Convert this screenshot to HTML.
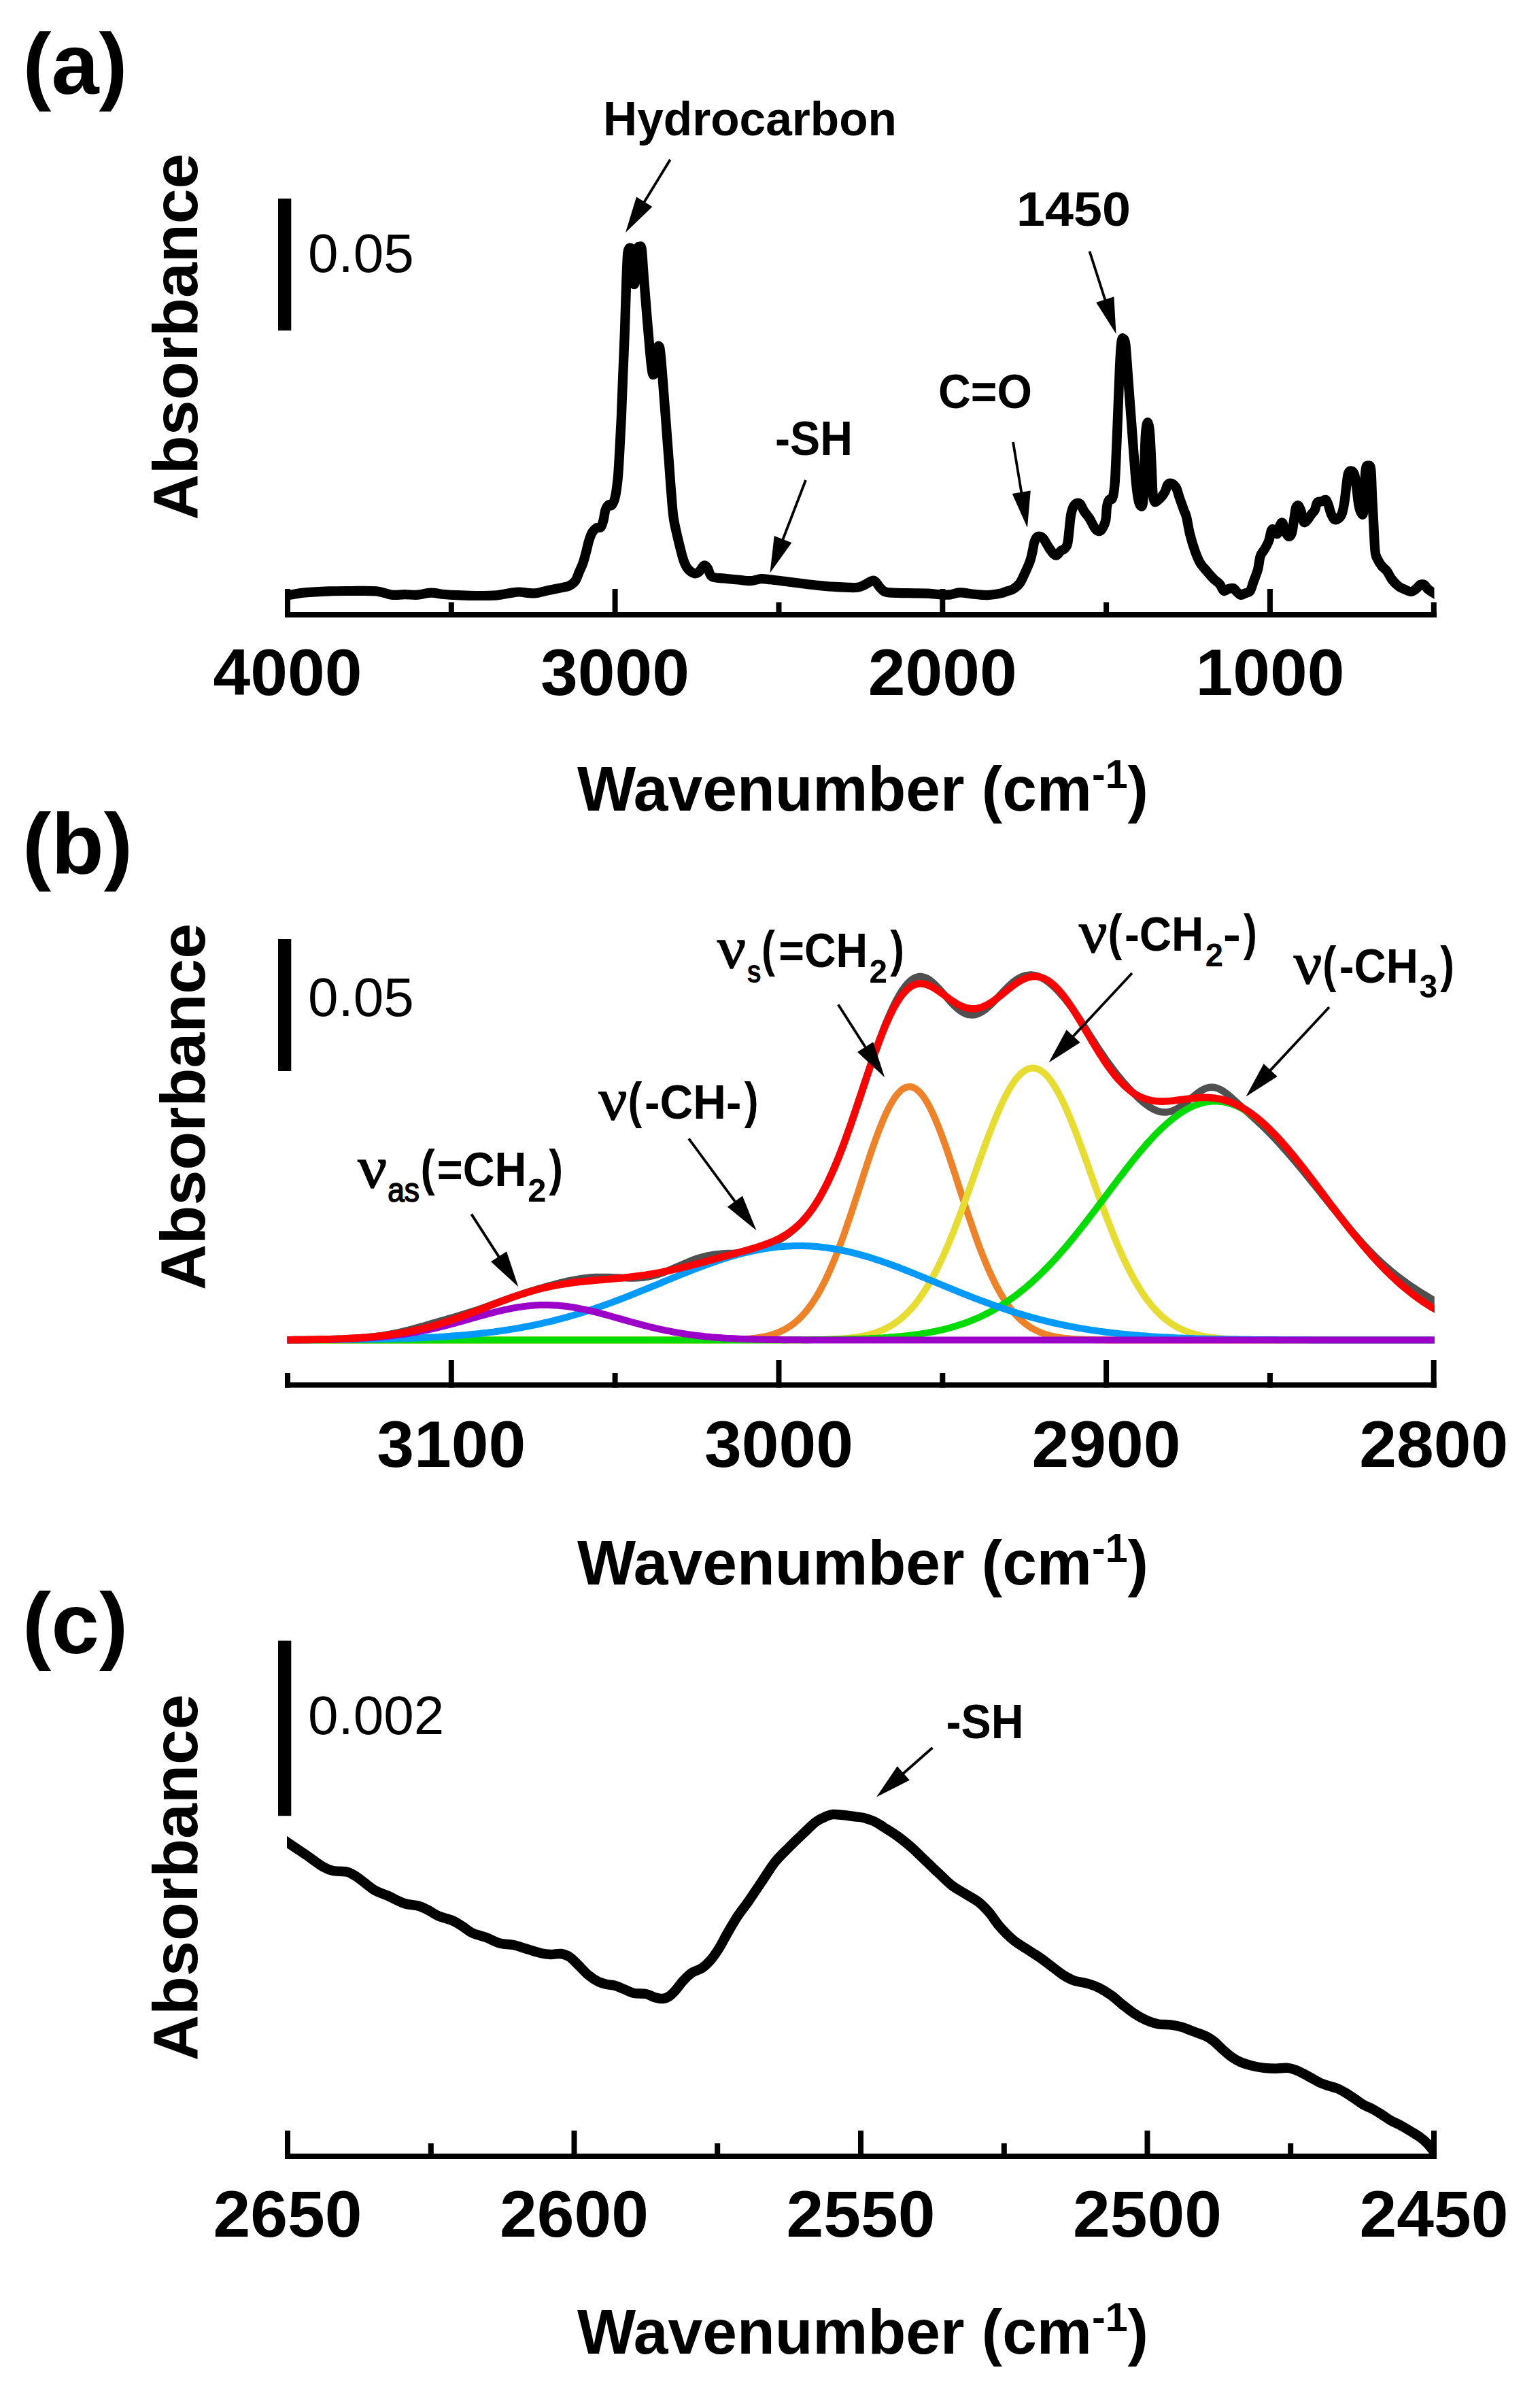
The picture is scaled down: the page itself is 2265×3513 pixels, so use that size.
<!DOCTYPE html>
<html><head><meta charset="utf-8"><title>FTIR spectra</title>
<style>html,body{margin:0;padding:0;background:#fff}svg{display:block}</style></head>
<body>
<svg width="2265" height="3513" viewBox="0 0 2265 3513">
<rect width="2265" height="3513" fill="#fff"/>
<text x="33.5" y="138" font-family="'Liberation Sans', Arial, sans-serif" font-weight="700" font-size="126">(a)</text>
<text transform="translate(289.5 764.5) rotate(-90)" font-family="'Liberation Sans', Arial, sans-serif" font-weight="700" font-size="92.5" textLength="539" lengthAdjust="spacingAndGlyphs">Absorbance</text>
<rect x="409" y="292" width="19.3" height="194" fill="#000"/>
<text x="453" y="400" font-family="'Liberation Sans', Arial, sans-serif" font-size="80">0.05</text>
<rect x="419.0" y="900.0" width="1693.8" height="8.0" fill="#000"/>
<rect x="419.0" y="866.0" width="8" height="42.0" fill="#000"/>
<rect x="900.6" y="866.0" width="8" height="42.0" fill="#000"/>
<rect x="1382.3" y="866.0" width="8" height="42.0" fill="#000"/>
<rect x="1863.9" y="866.0" width="8" height="42.0" fill="#000"/>
<rect x="659.8" y="885.5" width="8" height="22.5" fill="#000"/>
<rect x="1141.5" y="885.5" width="8" height="22.5" fill="#000"/>
<rect x="1623.1" y="885.5" width="8" height="22.5" fill="#000"/>
<rect x="2104.8" y="885.5" width="8" height="22.5" fill="#000"/>
<clipPath id="ca"><rect x="422" y="300" width="1687.5" height="600"/></clipPath>
<path clip-path="url(#ca)" d="M412.0 876.0C414.5 875.8 420.8 875.5 426.9 874.7C433.0 873.9 439.2 872.3 448.7 871.4C458.2 870.5 472.4 869.8 483.8 869.4C495.2 869.0 505.2 869.0 516.9 869.0C528.6 869.0 544.0 868.4 553.9 869.4C563.8 870.4 569.5 873.9 576.3 874.7C583.1 875.5 588.5 874.2 594.8 874.2C601.1 874.2 607.8 875.1 614.3 874.7C620.8 874.3 627.3 871.7 633.8 871.6C640.3 871.5 646.8 873.4 653.3 874.0C659.8 874.6 665.0 874.9 672.8 875.2C680.6 875.5 690.3 876.0 700.0 876.0C709.7 876.0 722.3 876.0 730.9 875.3C739.5 874.6 745.9 872.7 751.4 871.9C756.9 871.1 757.9 870.4 763.6 870.5C769.3 870.6 778.5 872.8 785.5 872.4C792.5 872.0 799.1 869.6 805.9 868.2C812.7 866.8 821.2 865.2 826.4 864.1C831.6 863.0 834.0 863.1 837.3 861.4C840.6 859.7 844.0 857.3 846.4 853.9C848.8 850.5 850.0 845.3 851.9 840.9C853.8 836.5 855.9 832.4 857.7 827.3C859.5 822.1 861.1 815.4 862.5 810.0C863.9 804.6 864.8 799.6 866.2 795.0C867.7 790.4 869.4 785.6 871.2 782.5C873.1 779.4 875.4 777.5 877.5 776.2C879.6 775.0 882.1 776.9 883.8 775.0C885.4 773.1 886.4 769.2 887.5 765.0C888.6 760.8 889.2 753.8 890.5 750.0C891.8 746.2 893.4 743.8 895.0 742.5C896.6 741.2 898.3 744.6 900.0 742.5C901.7 740.4 903.5 736.7 905.0 730.0C906.5 723.3 907.7 713.3 908.8 702.5C909.8 691.7 910.4 679.6 911.2 665.0C912.1 650.4 912.9 633.8 913.8 615.0C914.6 596.2 915.4 573.3 916.2 552.5C917.1 531.7 917.9 512.9 918.8 490.0C919.6 467.1 920.5 434.2 921.2 415.0C922.0 395.8 922.4 382.7 923.0 374.5C923.6 366.3 924.2 367.0 925.0 365.8C925.8 364.5 927.2 363.0 928.0 367.0C928.8 371.0 929.4 382.0 930.0 390.0C930.6 398.0 931.1 410.8 931.8 415.0C932.4 419.2 933.1 419.2 933.8 415.0C934.4 410.8 934.9 398.1 935.5 390.0C936.1 381.9 936.7 371.0 937.5 366.5C938.3 362.0 939.5 362.8 940.5 362.8C941.5 362.8 942.8 359.9 943.8 366.5C944.8 373.1 945.2 386.1 946.5 402.5C947.8 418.9 949.9 445.4 951.5 465.0C953.1 484.6 954.9 506.2 956.2 520.0C957.6 533.8 958.5 543.3 959.5 548.0C960.5 552.7 961.8 551.4 962.5 548.0C963.2 544.6 963.1 533.4 963.8 527.5C964.4 521.6 965.2 515.4 966.2 512.5C967.3 509.6 969.0 507.1 970.0 510.0C971.0 512.9 971.5 518.8 972.5 530.0C973.5 541.2 975.0 561.2 976.2 577.5C977.5 593.8 978.8 610.8 980.0 627.5C981.2 644.2 982.5 660.8 983.8 677.5C985.0 694.2 986.2 712.9 987.5 727.5C988.8 742.1 988.9 751.2 991.2 765.0C993.6 778.8 999.0 800.0 1001.6 810.5C1004.2 821.0 1005.1 823.6 1007.0 828.2C1008.9 832.8 1010.6 835.5 1013.0 838.0C1015.4 840.5 1019.1 842.7 1021.6 843.2C1024.1 843.7 1025.7 843.0 1028.0 841.0C1030.3 839.0 1033.5 832.3 1035.7 831.5C1037.9 830.7 1039.1 833.2 1041.0 836.0C1042.9 838.8 1043.3 845.6 1047.3 848.0C1051.3 850.4 1058.6 849.8 1065.0 850.5C1071.4 851.2 1078.9 851.9 1085.5 852.5C1092.1 853.1 1098.8 854.3 1104.5 854.1C1110.2 853.9 1114.7 851.4 1119.5 851.1C1124.3 850.8 1127.5 851.7 1133.2 852.3C1138.9 852.9 1145.6 853.8 1153.6 854.8C1161.5 855.8 1173.2 857.2 1180.9 858.2C1188.6 859.2 1193.7 859.8 1200.0 860.5C1206.3 861.2 1209.3 861.7 1219.0 862.3C1228.7 862.9 1249.2 864.4 1258.0 864.0C1266.8 863.6 1267.1 861.7 1271.6 860.0C1276.1 858.3 1281.3 852.9 1285.2 853.7C1289.1 854.5 1291.8 861.9 1295.0 864.8C1298.2 867.7 1297.9 869.8 1304.7 871.0C1311.5 872.2 1325.9 871.9 1335.9 872.2C1346.0 872.5 1356.9 872.2 1365.0 872.6C1373.1 873.0 1379.1 874.2 1384.6 874.5C1390.1 874.8 1393.5 874.9 1398.0 874.4C1402.5 873.9 1405.9 871.5 1411.8 871.4C1417.7 871.3 1426.5 873.2 1433.3 873.8C1440.1 874.4 1446.2 875.3 1452.7 875.1C1459.2 874.9 1467.7 873.3 1472.2 872.4C1476.8 871.5 1477.0 870.7 1480.0 869.7C1483.0 868.7 1486.7 868.3 1490.0 866.2C1493.3 864.2 1497.1 861.5 1500.0 857.5C1502.9 853.5 1505.0 847.9 1507.5 842.5C1510.0 837.1 1513.1 830.4 1515.0 825.0C1516.9 819.6 1517.7 814.6 1518.8 810.0C1519.8 805.4 1520.2 800.8 1521.2 797.5C1522.3 794.2 1523.5 791.5 1525.0 790.0C1526.5 788.5 1528.3 788.3 1530.0 788.8C1531.7 789.2 1532.9 789.8 1535.0 792.5C1537.1 795.2 1540.0 801.2 1542.5 805.0C1545.0 808.8 1547.9 813.1 1550.0 815.0C1552.1 816.9 1553.3 817.1 1555.0 816.2C1556.7 815.4 1558.3 811.5 1560.0 810.0C1561.7 808.5 1563.3 809.2 1565.0 807.5C1566.7 805.8 1568.8 804.6 1570.0 800.0C1571.2 795.4 1571.7 787.1 1572.5 780.0C1573.3 772.9 1574.0 763.3 1575.0 757.5C1576.0 751.7 1577.3 747.9 1578.8 745.0C1580.2 742.1 1582.1 740.6 1583.8 740.0C1585.4 739.4 1586.9 739.2 1588.8 741.2C1590.6 743.3 1592.7 749.0 1595.0 752.5C1597.3 756.0 1600.0 758.5 1602.5 762.5C1605.0 766.5 1607.7 773.1 1610.0 776.2C1612.3 779.4 1614.4 781.0 1616.2 781.2C1618.1 781.5 1619.6 780.2 1621.2 777.5C1622.9 774.8 1625.1 770.4 1626.2 765.0C1627.4 759.6 1627.2 750.0 1628.0 745.0C1628.8 740.0 1629.9 737.1 1631.2 735.0C1632.6 732.9 1634.9 736.2 1636.2 732.5C1637.6 728.8 1638.5 724.2 1639.5 712.5C1640.5 700.8 1641.2 681.2 1642.0 662.5C1642.8 643.8 1643.7 620.8 1644.5 600.0C1645.3 579.2 1646.2 553.8 1647.0 537.5C1647.8 521.2 1648.6 508.5 1649.5 502.0C1650.4 495.5 1651.5 497.4 1652.5 498.2C1653.5 499.1 1654.5 498.4 1655.5 507.0C1656.5 515.6 1657.6 534.5 1658.8 550.0C1659.9 565.5 1661.2 583.3 1662.5 600.0C1663.8 616.7 1665.0 633.3 1666.2 650.0C1667.5 666.7 1668.8 686.2 1670.0 700.0C1671.2 713.8 1672.5 725.2 1673.8 732.5C1675.0 739.8 1676.2 742.9 1677.5 743.8C1678.8 744.6 1680.3 746.9 1681.2 737.5C1682.2 728.1 1682.4 704.2 1683.0 687.5C1683.6 670.8 1684.2 648.6 1685.0 637.5C1685.8 626.4 1687.0 621.0 1688.0 621.0C1689.0 621.0 1690.3 626.4 1691.2 637.5C1692.2 648.6 1693.0 672.9 1693.8 687.5C1694.5 702.1 1694.8 716.7 1695.5 725.0C1696.2 733.3 1696.8 735.6 1698.0 737.5C1699.2 739.4 1700.7 737.5 1702.5 736.2C1704.3 735.0 1706.9 732.3 1708.8 730.0C1710.6 727.7 1712.3 725.4 1713.8 722.5C1715.2 719.6 1715.8 714.4 1717.5 712.5C1719.2 710.6 1721.7 710.4 1723.8 711.2C1725.8 712.1 1728.1 714.0 1730.0 717.5C1731.9 721.0 1733.1 727.1 1735.0 732.5C1736.9 737.9 1739.6 745.4 1741.2 750.0C1742.9 754.6 1743.5 754.2 1745.0 760.0C1746.5 765.8 1747.9 776.7 1750.0 785.0C1752.1 793.3 1755.0 802.9 1757.5 810.0C1760.0 817.1 1762.1 822.5 1765.0 827.5C1767.9 832.5 1771.7 836.0 1775.0 840.0C1778.3 844.0 1781.9 848.1 1785.0 851.2C1788.1 854.4 1791.2 855.8 1793.8 858.8C1796.2 861.7 1797.9 867.5 1800.0 868.8C1802.1 870.0 1804.0 866.9 1806.2 866.2C1808.5 865.6 1811.5 864.2 1813.8 865.0C1816.0 865.8 1818.1 869.6 1820.0 871.2C1821.9 872.9 1823.1 874.8 1825.0 875.0C1826.9 875.2 1829.0 873.5 1831.2 872.5C1833.5 871.5 1836.7 871.7 1838.8 868.8C1840.8 865.8 1841.9 860.2 1843.8 855.0C1845.6 849.8 1848.3 843.8 1850.0 837.5C1851.7 831.2 1852.1 822.5 1853.8 817.5C1855.4 812.5 1857.9 811.2 1860.0 807.5C1862.1 803.8 1864.6 799.6 1866.2 795.0C1867.9 790.4 1868.8 782.7 1870.0 780.0C1871.2 777.3 1872.3 777.9 1873.8 778.8C1875.2 779.6 1877.3 786.0 1878.8 785.0C1880.2 784.0 1881.2 775.2 1882.5 772.5C1883.8 769.8 1885.0 767.5 1886.2 768.8C1887.5 770.0 1888.5 776.7 1890.0 780.0C1891.5 783.3 1893.3 788.1 1895.0 788.8C1896.7 789.4 1898.5 788.5 1900.0 783.8C1901.5 779.0 1902.7 766.2 1903.8 760.0C1904.8 753.8 1905.2 749.0 1906.2 746.2C1907.3 743.5 1908.8 742.7 1910.0 743.8C1911.2 744.8 1912.5 748.5 1913.8 752.5C1915.0 756.5 1916.0 765.4 1917.5 767.5C1919.0 769.6 1920.6 766.9 1922.5 765.0C1924.4 763.1 1926.9 758.8 1928.8 756.2C1930.6 753.8 1932.3 752.9 1933.8 750.0C1935.2 747.1 1935.8 740.8 1937.5 738.8C1939.2 736.7 1941.7 738.1 1943.8 737.5C1945.8 736.9 1948.3 734.2 1950.0 735.0C1951.7 735.8 1952.5 739.2 1953.8 742.5C1955.0 745.8 1956.0 751.5 1957.5 755.0C1959.0 758.5 1960.6 762.5 1962.5 763.8C1964.4 765.0 1966.9 764.0 1968.8 762.5C1970.6 761.0 1972.3 759.2 1973.8 755.0C1975.2 750.8 1976.4 744.6 1977.5 737.5C1978.6 730.4 1979.6 719.4 1980.5 712.5C1981.4 705.6 1981.8 699.6 1983.0 696.2C1984.2 692.9 1986.0 692.3 1987.5 692.5C1989.0 692.7 1990.8 693.8 1992.0 697.5C1993.2 701.2 1994.0 707.9 1995.0 715.0C1996.0 722.1 1997.0 733.8 1998.0 740.0C1999.0 746.2 2000.1 750.0 2001.2 752.5C2002.4 755.0 2004.2 759.2 2005.0 755.0C2005.8 750.8 2005.6 738.3 2006.2 727.5C2006.9 716.7 2007.7 697.1 2008.8 690.0C2009.8 682.9 2011.2 685.0 2012.5 685.0C2013.8 685.0 2015.3 682.9 2016.2 690.0C2017.2 697.1 2017.4 715.0 2018.0 727.5C2018.6 740.0 2019.2 751.2 2020.0 765.0C2020.8 778.8 2021.5 800.4 2022.5 810.0C2023.5 819.6 2024.6 818.8 2026.2 822.5C2027.9 826.2 2030.2 829.6 2032.5 832.5C2034.8 835.4 2037.5 836.7 2040.0 840.0C2042.5 843.3 2044.6 848.8 2047.5 852.5C2050.4 856.2 2054.6 860.2 2057.5 862.5C2060.4 864.8 2062.1 865.0 2065.0 866.2C2067.9 867.5 2072.1 870.0 2075.0 870.0C2077.9 870.0 2080.2 867.9 2082.5 866.2C2084.8 864.6 2086.7 861.0 2088.8 860.0C2090.8 859.0 2093.1 859.0 2095.0 860.0C2096.9 861.0 2097.6 864.2 2100.0 866.2C2102.4 868.3 2107.0 870.9 2109.5 872.5C2112.0 874.1 2114.1 875.4 2115.0 876.0" fill="none" stroke="#000" stroke-width="14.2" stroke-linejoin="round" stroke-linecap="butt"/>
<text x="423.0" y="1021.8" font-family="'Liberation Sans', Arial, sans-serif" font-weight="700" font-size="96.0" text-anchor="middle" textLength="219" lengthAdjust="spacingAndGlyphs">4000</text>
<text x="904.6" y="1021.8" font-family="'Liberation Sans', Arial, sans-serif" font-weight="700" font-size="96.0" text-anchor="middle" textLength="219" lengthAdjust="spacingAndGlyphs">3000</text>
<text x="1386.3" y="1021.8" font-family="'Liberation Sans', Arial, sans-serif" font-weight="700" font-size="96.0" text-anchor="middle" textLength="219" lengthAdjust="spacingAndGlyphs">2000</text>
<text x="1867.9" y="1021.8" font-family="'Liberation Sans', Arial, sans-serif" font-weight="700" font-size="96.0" text-anchor="middle" textLength="219" lengthAdjust="spacingAndGlyphs">1000</text>
<text x="849" y="1192.0" font-family="'Liberation Sans', Arial, sans-serif" font-weight="700" font-size="92.5" textLength="840" lengthAdjust="spacingAndGlyphs">Wavenumber (cm<tspan font-size="60" dy="-33">-1</tspan><tspan dy="33">)</tspan></text>
<text x="887.0" y="199.0" font-family="'Liberation Sans', Arial, sans-serif" font-weight="700" font-size="71.0" textLength="432.0" lengthAdjust="spacingAndGlyphs">Hydrocarbon</text>
<line x1="985.7" y1="234.8" x2="945.6" y2="300.2" stroke="#000" stroke-width="3.8"/>
<polygon points="920.0,342.0 936.0,289.6 959.4,304.0" fill="#000"/>
<text x="1495.0" y="331.5" font-family="'Liberation Sans', Arial, sans-serif" font-weight="700" font-size="71.0" textLength="168.0" lengthAdjust="spacingAndGlyphs">1450</text>
<line x1="1602.5" y1="369.5" x2="1626.5" y2="444.3" stroke="#000" stroke-width="3.8"/>
<polygon points="1641.5,491.0 1612.2,444.7 1638.4,436.3" fill="#000"/>
<text x="1380.0" y="599.5" font-family="'Liberation Sans', Arial, sans-serif" font-weight="700" font-size="71.0" textLength="138.0" lengthAdjust="spacingAndGlyphs">C=O</text>
<line x1="1490.0" y1="650.0" x2="1502.9" y2="727.7" stroke="#000" stroke-width="3.8"/>
<polygon points="1511.0,776.0 1488.7,726.0 1515.8,721.5" fill="#000"/>
<text x="1140.0" y="668.5" font-family="'Liberation Sans', Arial, sans-serif" font-weight="700" font-size="71.0" textLength="114.0" lengthAdjust="spacingAndGlyphs">-SH</text>
<line x1="1185.0" y1="706.0" x2="1150.1" y2="796.8" stroke="#000" stroke-width="3.8"/>
<polygon points="1132.5,842.5 1138.7,788.1 1164.4,798.0" fill="#000"/>
<text x="33" y="1285" font-family="'Liberation Sans', Arial, sans-serif" font-weight="700" font-size="127">(b)</text>
<text transform="translate(300.8 1896.9) rotate(-90)" font-family="'Liberation Sans', Arial, sans-serif" font-weight="700" font-size="92.5" textLength="539" lengthAdjust="spacingAndGlyphs">Absorbance</text>
<rect x="409" y="1381" width="19.3" height="194" fill="#000"/>
<text x="453" y="1493.5" font-family="'Liberation Sans', Arial, sans-serif" font-size="80">0.05</text>
<rect x="419.0" y="2032.6" width="1693.8" height="8.0" fill="#000"/>
<rect x="659.8" y="2000.0" width="8" height="40.6" fill="#000"/>
<rect x="1141.5" y="2000.0" width="8" height="40.6" fill="#000"/>
<rect x="1623.1" y="2000.0" width="8" height="40.6" fill="#000"/>
<rect x="2104.7" y="2000.0" width="8" height="40.6" fill="#000"/>
<rect x="419.0" y="2019.0" width="8" height="21.6" fill="#000"/>
<rect x="900.6" y="2019.0" width="8" height="21.6" fill="#000"/>
<rect x="1382.3" y="2019.0" width="8" height="21.6" fill="#000"/>
<rect x="1863.9" y="2019.0" width="8" height="21.6" fill="#000"/>
<clipPath id="cb"><rect x="422.5" y="1380" width="1687.3" height="640"/></clipPath>
<g clip-path="url(#cb)">
<path d="M412.5 1970.3L416.6 1970.3L420.6 1970.2L424.7 1970.2L428.8 1970.2L432.8 1970.1L436.9 1970.1L441.0 1970.1L445.0 1970.0L449.1 1970.0L453.1 1969.9L457.2 1969.9L461.3 1969.8L465.3 1969.7L469.4 1969.6L473.5 1969.6L477.5 1969.5L481.6 1969.4L485.7 1969.2L489.7 1969.1L493.8 1969.0L497.9 1968.8L501.9 1968.7L506.0 1968.5L510.1 1968.3L514.1 1968.1L518.2 1967.9L522.3 1967.6L526.3 1967.4L530.4 1967.1L534.5 1966.7L538.5 1966.4L542.6 1966.0L546.6 1965.6L550.7 1965.2L554.8 1964.7L558.8 1964.1L562.9 1963.6L567.0 1962.9L571.0 1962.3L575.1 1961.5L579.2 1960.8L583.2 1959.9L587.3 1959.1L591.4 1958.1L595.4 1957.2L599.5 1956.2L603.6 1955.1L607.6 1954.0L611.7 1952.9L615.8 1951.8L619.8 1950.6L623.9 1949.5L627.9 1948.3L632.0 1947.1L636.1 1945.9L640.1 1944.8L644.2 1943.6L648.3 1942.4L652.3 1941.2L656.4 1940.1L660.5 1938.9L664.5 1937.7L668.6 1936.5L672.7 1935.4L676.7 1934.1L680.8 1932.9L684.9 1931.6L688.9 1930.4L693.0 1929.1L697.0 1927.7L701.1 1926.4L705.2 1925.0L709.2 1923.6L713.3 1922.1L717.4 1920.7L721.4 1919.2L725.5 1917.7L729.6 1916.2L733.6 1914.7L737.7 1913.3L741.8 1911.8L745.8 1910.3L749.9 1908.9L754.0 1907.4L758.0 1906.0L762.1 1904.6L766.2 1903.2L770.2 1901.9L774.3 1900.6L778.4 1899.3L782.4 1898.0L786.5 1896.8L790.5 1895.5L794.6 1894.3L798.7 1893.2L802.7 1892.0L806.8 1890.9L810.9 1889.8L814.9 1888.7L819.0 1887.6L823.1 1886.6L827.1 1885.6L831.2 1884.7L835.3 1883.7L839.3 1882.9L843.4 1882.1L847.5 1881.3L851.5 1880.6L855.6 1880.0L859.7 1879.5L863.7 1879.0L867.8 1878.6L871.8 1878.3L875.9 1878.1L880.0 1877.9L884.0 1877.9L888.1 1877.9L892.2 1877.9L896.2 1878.0L900.3 1878.2L904.4 1878.4L908.4 1878.6L912.5 1878.8L916.6 1879.1L920.6 1879.2L924.7 1879.4L928.8 1879.4L932.8 1879.4L936.9 1879.3L941.0 1879.1L945.0 1878.7L949.1 1878.2L953.1 1877.5L957.2 1876.7L961.3 1875.8L965.3 1874.7L969.4 1873.4L973.5 1872.0L977.5 1870.5L981.6 1868.9L985.7 1867.2L989.7 1865.4L993.8 1863.6L997.9 1861.8L1001.9 1860.0L1006.0 1858.2L1010.1 1856.5L1014.1 1854.8L1018.2 1853.2L1022.3 1851.7L1026.3 1850.3L1030.4 1849.1L1034.4 1848.0L1038.5 1847.0L1042.6 1846.1L1046.6 1845.4L1050.7 1844.8L1054.8 1844.3L1058.8 1843.9L1062.9 1843.6L1067.0 1843.3L1071.0 1843.1L1075.1 1842.9L1079.2 1842.7L1083.2 1842.4L1087.3 1842.1L1091.4 1841.7L1095.4 1841.2L1099.5 1840.6L1103.6 1839.9L1107.6 1839.0L1111.7 1838.0L1115.7 1836.8L1119.8 1835.5L1123.9 1834.1L1127.9 1832.5L1132.0 1830.7L1136.1 1828.8L1140.1 1826.8L1144.2 1824.5L1148.3 1822.2L1152.3 1819.6L1156.4 1816.9L1160.5 1813.9L1164.5 1810.7L1168.6 1807.3L1172.7 1803.6L1176.7 1799.7L1180.8 1795.3L1184.9 1790.7L1188.9 1785.7L1193.0 1780.3L1197.0 1774.4L1201.1 1768.2L1205.2 1761.4L1209.2 1754.3L1213.3 1746.6L1217.4 1738.5L1221.4 1729.8L1225.5 1720.7L1229.6 1711.2L1233.6 1701.2L1237.7 1690.8L1241.8 1680.0L1245.8 1668.8L1249.9 1657.3L1254.0 1645.6L1258.0 1633.6L1262.1 1621.5L1266.2 1609.2L1270.2 1597.0L1274.3 1584.7L1278.3 1572.6L1282.4 1560.6L1286.5 1548.8L1290.5 1537.4L1294.6 1526.2L1298.7 1515.5L1302.7 1505.2L1306.8 1495.5L1310.9 1486.3L1314.9 1477.7L1319.0 1469.8L1323.1 1462.6L1327.1 1456.1L1331.2 1450.5L1335.3 1445.8L1339.3 1441.9L1343.4 1439.0L1347.5 1437.1L1351.5 1436.1L1355.6 1436.1L1359.6 1437.0L1363.7 1438.8L1367.8 1441.3L1371.8 1444.6L1375.9 1448.4L1380.0 1452.6L1384.0 1457.1L1388.1 1461.8L1392.2 1466.5L1396.2 1471.2L1400.3 1475.6L1404.4 1479.7L1408.4 1483.3L1412.5 1486.5L1416.6 1489.0L1420.6 1490.9L1424.7 1492.1L1428.8 1492.5L1432.8 1492.3L1436.9 1491.3L1440.9 1489.7L1445.0 1487.4L1449.1 1484.6L1453.1 1481.3L1457.2 1477.6L1461.3 1473.5L1465.3 1469.2L1469.4 1464.8L1473.5 1460.4L1477.5 1456.0L1481.6 1451.9L1485.7 1448.0L1489.7 1444.5L1493.8 1441.4L1497.9 1438.8L1501.9 1436.7L1506.0 1435.1L1510.1 1434.1L1514.1 1433.6L1518.2 1433.6L1522.2 1434.2L1526.3 1435.4L1530.4 1437.0L1534.4 1439.1L1538.5 1441.7L1542.6 1444.7L1546.6 1448.1L1550.7 1451.8L1554.8 1455.8L1558.8 1460.1L1562.9 1464.7L1567.0 1469.6L1571.0 1474.8L1575.1 1480.2L1579.2 1485.9L1583.2 1491.7L1587.3 1497.8L1591.4 1504.1L1595.4 1510.4L1599.5 1516.8L1603.5 1523.2L1607.6 1529.6L1611.7 1535.9L1615.7 1542.2L1619.8 1548.3L1623.9 1554.2L1627.9 1560.1L1632.0 1565.7L1636.1 1571.2L1640.1 1576.5L1644.2 1581.7L1648.3 1586.6L1652.3 1591.5L1656.4 1596.1L1660.5 1600.6L1664.5 1604.9L1668.6 1609.1L1672.7 1613.1L1676.7 1616.8L1680.8 1620.4L1684.8 1623.6L1688.9 1626.6L1693.0 1629.2L1697.0 1631.4L1701.1 1633.2L1705.2 1634.5L1709.2 1635.3L1713.3 1635.5L1717.4 1635.2L1721.4 1634.4L1725.5 1633.1L1729.6 1631.2L1733.6 1629.0L1737.7 1626.3L1741.8 1623.3L1745.8 1620.1L1749.9 1616.7L1754.0 1613.3L1758.0 1610.0L1762.1 1606.9L1766.1 1604.1L1770.2 1601.8L1774.3 1600.1L1778.3 1599.0L1782.4 1598.7L1786.5 1599.1L1790.5 1600.2L1794.6 1602.0L1798.7 1604.3L1802.7 1607.2L1806.8 1610.4L1810.9 1613.8L1814.9 1617.4L1819.0 1621.1L1823.1 1624.9L1827.1 1628.6L1831.2 1632.3L1835.3 1635.9L1839.3 1639.6L1843.4 1643.3L1847.4 1647.0L1851.5 1650.8L1855.6 1654.7L1859.6 1658.6L1863.7 1662.6L1867.8 1666.7L1871.8 1670.9L1875.9 1675.2L1880.0 1679.6L1884.0 1684.1L1888.1 1688.6L1892.2 1693.2L1896.2 1697.8L1900.3 1702.6L1904.4 1707.3L1908.4 1712.2L1912.5 1717.0L1916.6 1721.9L1920.6 1726.9L1924.7 1731.9L1928.7 1736.9L1932.8 1741.9L1936.9 1747.0L1940.9 1752.1L1945.0 1757.2L1949.1 1762.2L1953.1 1767.3L1957.2 1772.4L1961.3 1777.5L1965.3 1782.6L1969.4 1787.6L1973.5 1792.6L1977.5 1797.5L1981.6 1802.5L1985.7 1807.3L1989.7 1812.1L1993.8 1816.8L1997.9 1821.4L2001.9 1826.0L2006.0 1830.5L2010.0 1834.8L2014.1 1839.1L2018.2 1843.3L2022.2 1847.4L2026.3 1851.3L2030.4 1855.2L2034.4 1858.9L2038.5 1862.6L2042.6 1866.1L2046.6 1869.6L2050.7 1872.9L2054.8 1876.1L2058.8 1879.3L2062.9 1882.3L2067.0 1885.3L2071.0 1888.2L2075.1 1891.0L2079.2 1893.7L2083.2 1896.4L2087.3 1899.0L2091.3 1901.6L2095.4 1904.1L2099.5 1906.5L2103.5 1909.0L2107.6 1911.4L2111.7 1913.7L2115.7 1916.0L2119.8 1918.3" fill="none" stroke="#505050" stroke-width="10.5" stroke-linejoin="round"/>
<path d="M412.5 1970.5L416.6 1970.5L420.6 1970.5L424.7 1970.5L428.8 1970.5L432.8 1970.5L436.9 1970.5L441.0 1970.5L445.0 1970.5L449.1 1970.5L453.1 1970.5L457.2 1970.5L461.3 1970.5L465.3 1970.5L469.4 1970.5L473.5 1970.5L477.5 1970.5L481.6 1970.5L485.7 1970.5L489.7 1970.5L493.8 1970.5L497.9 1970.5L501.9 1970.5L506.0 1970.5L510.1 1970.5L514.1 1970.5L518.2 1970.5L522.3 1970.5L526.3 1970.5L530.4 1970.5L534.5 1970.5L538.5 1970.5L542.6 1970.5L546.6 1970.5L550.7 1970.5L554.8 1970.5L558.8 1970.5L562.9 1970.5L567.0 1970.5L571.0 1970.5L575.1 1970.5L579.2 1970.5L583.2 1970.5L587.3 1970.5L591.4 1970.5L595.4 1970.5L599.5 1970.5L603.6 1970.5L607.6 1970.5L611.7 1970.5L615.8 1970.5L619.8 1970.5L623.9 1970.5L627.9 1970.5L632.0 1970.5L636.1 1970.5L640.1 1970.5L644.2 1970.5L648.3 1970.5L652.3 1970.5L656.4 1970.5L660.5 1970.5L664.5 1970.5L668.6 1970.5L672.7 1970.5L676.7 1970.5L680.8 1970.5L684.9 1970.5L688.9 1970.5L693.0 1970.5L697.0 1970.5L701.1 1970.5L705.2 1970.5L709.2 1970.5L713.3 1970.5L717.4 1970.5L721.4 1970.5L725.5 1970.5L729.6 1970.5L733.6 1970.5L737.7 1970.5L741.8 1970.5L745.8 1970.5L749.9 1970.5L754.0 1970.5L758.0 1970.5L762.1 1970.5L766.2 1970.5L770.2 1970.5L774.3 1970.5L778.4 1970.5L782.4 1970.5L786.5 1970.5L790.5 1970.5L794.6 1970.5L798.7 1970.5L802.7 1970.5L806.8 1970.5L810.9 1970.5L814.9 1970.5L819.0 1970.5L823.1 1970.5L827.1 1970.5L831.2 1970.5L835.3 1970.5L839.3 1970.5L843.4 1970.5L847.5 1970.5L851.5 1970.5L855.6 1970.5L859.7 1970.5L863.7 1970.5L867.8 1970.5L871.8 1970.5L875.9 1970.5L880.0 1970.5L884.0 1970.5L888.1 1970.5L892.2 1970.5L896.2 1970.5L900.3 1970.5L904.4 1970.5L908.4 1970.5L912.5 1970.5L916.6 1970.5L920.6 1970.5L924.7 1970.5L928.8 1970.5L932.8 1970.5L936.9 1970.5L941.0 1970.5L945.0 1970.5L949.1 1970.5L953.1 1970.5L957.2 1970.5L961.3 1970.5L965.3 1970.5L969.4 1970.5L973.5 1970.5L977.5 1970.5L981.6 1970.5L985.7 1970.5L989.7 1970.5L993.8 1970.5L997.9 1970.5L1001.9 1970.5L1006.0 1970.5L1010.1 1970.5L1014.1 1970.5L1018.2 1970.5L1022.3 1970.5L1026.3 1970.5L1030.4 1970.4L1034.4 1970.4L1038.5 1970.4L1042.6 1970.4L1046.6 1970.4L1050.7 1970.3L1054.8 1970.3L1058.8 1970.3L1062.9 1970.2L1067.0 1970.1L1071.0 1970.0L1075.1 1969.9L1079.2 1969.8L1083.2 1969.7L1087.3 1969.5L1091.4 1969.3L1095.4 1969.0L1099.5 1968.7L1103.6 1968.4L1107.6 1968.0L1111.7 1967.5L1115.7 1966.9L1119.8 1966.2L1123.9 1965.5L1127.9 1964.6L1132.0 1963.6L1136.1 1962.4L1140.1 1961.1L1144.2 1959.5L1148.3 1957.8L1152.3 1955.8L1156.4 1953.6L1160.5 1951.1L1164.5 1948.4L1168.6 1945.3L1172.7 1941.8L1176.7 1938.0L1180.8 1933.8L1184.9 1929.2L1188.9 1924.1L1193.0 1918.6L1197.0 1912.6L1201.1 1906.1L1205.2 1899.1L1209.2 1891.6L1213.3 1883.6L1217.4 1875.0L1221.4 1866.0L1225.5 1856.4L1229.6 1846.4L1233.6 1835.9L1237.7 1825.0L1241.8 1813.6L1245.8 1801.9L1249.9 1789.9L1254.0 1777.7L1258.0 1765.2L1262.1 1752.7L1266.2 1740.1L1270.2 1727.5L1274.3 1715.0L1278.3 1702.7L1282.4 1690.7L1286.5 1679.1L1290.5 1668.0L1294.6 1657.4L1298.7 1647.4L1302.7 1638.1L1306.8 1629.7L1310.9 1622.1L1314.9 1615.5L1319.0 1609.8L1323.1 1605.3L1327.1 1601.8L1331.2 1599.4L1335.3 1598.2L1339.3 1598.1L1343.4 1599.2L1347.5 1601.5L1351.5 1604.8L1355.6 1609.3L1359.6 1614.8L1363.7 1621.4L1367.8 1628.9L1371.8 1637.2L1375.9 1646.4L1380.0 1656.3L1384.0 1666.8L1388.1 1677.9L1392.2 1689.5L1396.2 1701.5L1400.3 1713.7L1404.4 1726.2L1408.4 1738.7L1412.5 1751.4L1416.6 1763.9L1420.6 1776.4L1424.7 1788.7L1428.8 1800.7L1432.8 1812.4L1436.9 1823.8L1440.9 1834.8L1445.0 1845.3L1449.1 1855.4L1453.1 1865.0L1457.2 1874.1L1461.3 1882.7L1465.3 1890.8L1469.4 1898.3L1473.5 1905.4L1477.5 1911.9L1481.6 1918.0L1485.7 1923.5L1489.7 1928.7L1493.8 1933.3L1497.9 1937.6L1501.9 1941.4L1506.0 1944.9L1510.1 1948.0L1514.1 1950.9L1518.2 1953.4L1522.2 1955.6L1526.3 1957.6L1530.4 1959.4L1534.4 1960.9L1538.5 1962.3L1542.6 1963.5L1546.6 1964.5L1550.7 1965.4L1554.8 1966.2L1558.8 1966.8L1562.9 1967.4L1567.0 1967.9L1571.0 1968.3L1575.1 1968.7L1579.2 1969.0L1583.2 1969.2L1587.3 1969.5L1591.4 1969.6L1595.4 1969.8L1599.5 1969.9L1603.5 1970.0L1607.6 1970.1L1611.7 1970.2L1615.7 1970.2L1619.8 1970.3L1623.9 1970.3L1627.9 1970.4L1632.0 1970.4L1636.1 1970.4L1640.1 1970.4L1644.2 1970.4L1648.3 1970.5L1652.3 1970.5L1656.4 1970.5L1660.5 1970.5L1664.5 1970.5L1668.6 1970.5L1672.7 1970.5L1676.7 1970.5L1680.8 1970.5L1684.8 1970.5L1688.9 1970.5L1693.0 1970.5L1697.0 1970.5L1701.1 1970.5L1705.2 1970.5L1709.2 1970.5L1713.3 1970.5L1717.4 1970.5L1721.4 1970.5L1725.5 1970.5L1729.6 1970.5L1733.6 1970.5L1737.7 1970.5L1741.8 1970.5L1745.8 1970.5L1749.9 1970.5L1754.0 1970.5L1758.0 1970.5L1762.1 1970.5L1766.1 1970.5L1770.2 1970.5L1774.3 1970.5L1778.3 1970.5L1782.4 1970.5L1786.5 1970.5L1790.5 1970.5L1794.6 1970.5L1798.7 1970.5L1802.7 1970.5L1806.8 1970.5L1810.9 1970.5L1814.9 1970.5L1819.0 1970.5L1823.1 1970.5L1827.1 1970.5L1831.2 1970.5L1835.3 1970.5L1839.3 1970.5L1843.4 1970.5L1847.4 1970.5L1851.5 1970.5L1855.6 1970.5L1859.6 1970.5L1863.7 1970.5L1867.8 1970.5L1871.8 1970.5L1875.9 1970.5L1880.0 1970.5L1884.0 1970.5L1888.1 1970.5L1892.2 1970.5L1896.2 1970.5L1900.3 1970.5L1904.4 1970.5L1908.4 1970.5L1912.5 1970.5L1916.6 1970.5L1920.6 1970.5L1924.7 1970.5L1928.7 1970.5L1932.8 1970.5L1936.9 1970.5L1940.9 1970.5L1945.0 1970.5L1949.1 1970.5L1953.1 1970.5L1957.2 1970.5L1961.3 1970.5L1965.3 1970.5L1969.4 1970.5L1973.5 1970.5L1977.5 1970.5L1981.6 1970.5L1985.7 1970.5L1989.7 1970.5L1993.8 1970.5L1997.9 1970.5L2001.9 1970.5L2006.0 1970.5L2010.0 1970.5L2014.1 1970.5L2018.2 1970.5L2022.2 1970.5L2026.3 1970.5L2030.4 1970.5L2034.4 1970.5L2038.5 1970.5L2042.6 1970.5L2046.6 1970.5L2050.7 1970.5L2054.8 1970.5L2058.8 1970.5L2062.9 1970.5L2067.0 1970.5L2071.0 1970.5L2075.1 1970.5L2079.2 1970.5L2083.2 1970.5L2087.3 1970.5L2091.3 1970.5L2095.4 1970.5L2099.5 1970.5L2103.5 1970.5L2107.6 1970.5L2111.7 1970.5L2115.7 1970.5L2119.8 1970.5" fill="none" stroke="#ee8228" stroke-width="10" stroke-linejoin="round"/>
<path d="M412.5 1970.5L416.6 1970.5L420.6 1970.5L424.7 1970.5L428.8 1970.5L432.8 1970.5L436.9 1970.5L441.0 1970.5L445.0 1970.5L449.1 1970.5L453.1 1970.5L457.2 1970.5L461.3 1970.5L465.3 1970.5L469.4 1970.5L473.5 1970.5L477.5 1970.5L481.6 1970.5L485.7 1970.5L489.7 1970.5L493.8 1970.5L497.9 1970.5L501.9 1970.5L506.0 1970.5L510.1 1970.5L514.1 1970.5L518.2 1970.5L522.3 1970.5L526.3 1970.5L530.4 1970.5L534.5 1970.5L538.5 1970.5L542.6 1970.5L546.6 1970.5L550.7 1970.5L554.8 1970.5L558.8 1970.5L562.9 1970.5L567.0 1970.5L571.0 1970.5L575.1 1970.5L579.2 1970.5L583.2 1970.5L587.3 1970.5L591.4 1970.5L595.4 1970.5L599.5 1970.5L603.6 1970.5L607.6 1970.5L611.7 1970.5L615.8 1970.5L619.8 1970.5L623.9 1970.5L627.9 1970.5L632.0 1970.5L636.1 1970.5L640.1 1970.5L644.2 1970.5L648.3 1970.5L652.3 1970.5L656.4 1970.5L660.5 1970.5L664.5 1970.5L668.6 1970.5L672.7 1970.5L676.7 1970.5L680.8 1970.5L684.9 1970.5L688.9 1970.5L693.0 1970.5L697.0 1970.5L701.1 1970.5L705.2 1970.5L709.2 1970.5L713.3 1970.5L717.4 1970.5L721.4 1970.5L725.5 1970.5L729.6 1970.5L733.6 1970.5L737.7 1970.5L741.8 1970.5L745.8 1970.5L749.9 1970.5L754.0 1970.5L758.0 1970.5L762.1 1970.5L766.2 1970.5L770.2 1970.5L774.3 1970.5L778.4 1970.5L782.4 1970.5L786.5 1970.5L790.5 1970.5L794.6 1970.5L798.7 1970.5L802.7 1970.5L806.8 1970.5L810.9 1970.5L814.9 1970.5L819.0 1970.5L823.1 1970.5L827.1 1970.5L831.2 1970.5L835.3 1970.5L839.3 1970.5L843.4 1970.5L847.5 1970.5L851.5 1970.5L855.6 1970.5L859.7 1970.5L863.7 1970.5L867.8 1970.5L871.8 1970.5L875.9 1970.5L880.0 1970.5L884.0 1970.5L888.1 1970.5L892.2 1970.5L896.2 1970.5L900.3 1970.5L904.4 1970.5L908.4 1970.5L912.5 1970.5L916.6 1970.5L920.6 1970.5L924.7 1970.5L928.8 1970.5L932.8 1970.5L936.9 1970.5L941.0 1970.5L945.0 1970.5L949.1 1970.5L953.1 1970.5L957.2 1970.5L961.3 1970.5L965.3 1970.5L969.4 1970.5L973.5 1970.5L977.5 1970.5L981.6 1970.5L985.7 1970.5L989.7 1970.5L993.8 1970.5L997.9 1970.5L1001.9 1970.5L1006.0 1970.5L1010.1 1970.5L1014.1 1970.5L1018.2 1970.5L1022.3 1970.5L1026.3 1970.5L1030.4 1970.5L1034.4 1970.5L1038.5 1970.5L1042.6 1970.5L1046.6 1970.5L1050.7 1970.5L1054.8 1970.5L1058.8 1970.5L1062.9 1970.5L1067.0 1970.5L1071.0 1970.5L1075.1 1970.5L1079.2 1970.5L1083.2 1970.5L1087.3 1970.5L1091.4 1970.5L1095.4 1970.5L1099.5 1970.5L1103.6 1970.5L1107.6 1970.5L1111.7 1970.5L1115.7 1970.5L1119.8 1970.5L1123.9 1970.5L1127.9 1970.5L1132.0 1970.5L1136.1 1970.5L1140.1 1970.5L1144.2 1970.5L1148.3 1970.5L1152.3 1970.5L1156.4 1970.4L1160.5 1970.4L1164.5 1970.4L1168.6 1970.4L1172.7 1970.4L1176.7 1970.4L1180.8 1970.3L1184.9 1970.3L1188.9 1970.2L1193.0 1970.2L1197.0 1970.1L1201.1 1970.1L1205.2 1970.0L1209.2 1969.9L1213.3 1969.8L1217.4 1969.6L1221.4 1969.5L1225.5 1969.3L1229.6 1969.1L1233.6 1968.9L1237.7 1968.6L1241.8 1968.3L1245.8 1967.9L1249.9 1967.5L1254.0 1967.0L1258.0 1966.5L1262.1 1965.9L1266.2 1965.2L1270.2 1964.4L1274.3 1963.5L1278.3 1962.5L1282.4 1961.4L1286.5 1960.2L1290.5 1958.8L1294.6 1957.2L1298.7 1955.5L1302.7 1953.6L1306.8 1951.4L1310.9 1949.1L1314.9 1946.5L1319.0 1943.7L1323.1 1940.7L1327.1 1937.3L1331.2 1933.6L1335.3 1929.7L1339.3 1925.4L1343.4 1920.8L1347.5 1915.8L1351.5 1910.5L1355.6 1904.7L1359.6 1898.6L1363.7 1892.1L1367.8 1885.3L1371.8 1878.0L1375.9 1870.3L1380.0 1862.2L1384.0 1853.8L1388.1 1844.9L1392.2 1835.7L1396.2 1826.1L1400.3 1816.2L1404.4 1806.0L1408.4 1795.5L1412.5 1784.7L1416.6 1773.7L1420.6 1762.6L1424.7 1751.3L1428.8 1739.9L1432.8 1728.4L1436.9 1716.9L1440.9 1705.5L1445.0 1694.2L1449.1 1683.1L1453.1 1672.2L1457.2 1661.5L1461.3 1651.2L1465.3 1641.3L1469.4 1631.8L1473.5 1622.8L1477.5 1614.4L1481.6 1606.6L1485.7 1599.5L1489.7 1593.0L1493.8 1587.3L1497.9 1582.4L1501.9 1578.3L1506.0 1575.1L1510.1 1572.7L1514.1 1571.1L1518.2 1570.5L1522.2 1570.8L1526.3 1571.9L1530.4 1574.0L1534.4 1576.9L1538.5 1580.7L1542.6 1585.2L1546.6 1590.6L1550.7 1596.8L1554.8 1603.6L1558.8 1611.2L1562.9 1619.4L1567.0 1628.1L1571.0 1637.4L1575.1 1647.1L1579.2 1657.3L1583.2 1667.8L1587.3 1678.7L1591.4 1689.7L1595.4 1701.0L1599.5 1712.3L1603.5 1723.8L1607.6 1735.2L1611.7 1746.7L1615.7 1758.0L1619.8 1769.3L1623.9 1780.3L1627.9 1791.2L1632.0 1801.8L1636.1 1812.1L1640.1 1822.2L1644.2 1831.9L1648.3 1841.2L1652.3 1850.2L1656.4 1858.9L1660.5 1867.1L1664.5 1874.9L1668.6 1882.4L1672.7 1889.4L1676.7 1896.1L1680.8 1902.3L1684.8 1908.2L1688.9 1913.7L1693.0 1918.8L1697.0 1923.6L1701.1 1928.0L1705.2 1932.1L1709.2 1935.9L1713.3 1939.3L1717.4 1942.5L1721.4 1945.4L1725.5 1948.1L1729.6 1950.5L1733.6 1952.7L1737.7 1954.7L1741.8 1956.5L1745.8 1958.2L1749.9 1959.6L1754.0 1960.9L1758.0 1962.1L1762.1 1963.1L1766.1 1964.1L1770.2 1964.9L1774.3 1965.6L1778.3 1966.3L1782.4 1966.8L1786.5 1967.3L1790.5 1967.8L1794.6 1968.1L1798.7 1968.5L1802.7 1968.8L1806.8 1969.0L1810.9 1969.2L1814.9 1969.4L1819.0 1969.6L1823.1 1969.7L1827.1 1969.8L1831.2 1969.9L1835.3 1970.0L1839.3 1970.1L1843.4 1970.2L1847.4 1970.2L1851.5 1970.3L1855.6 1970.3L1859.6 1970.3L1863.7 1970.4L1867.8 1970.4L1871.8 1970.4L1875.9 1970.4L1880.0 1970.4L1884.0 1970.5L1888.1 1970.5L1892.2 1970.5L1896.2 1970.5L1900.3 1970.5L1904.4 1970.5L1908.4 1970.5L1912.5 1970.5L1916.6 1970.5L1920.6 1970.5L1924.7 1970.5L1928.7 1970.5L1932.8 1970.5L1936.9 1970.5L1940.9 1970.5L1945.0 1970.5L1949.1 1970.5L1953.1 1970.5L1957.2 1970.5L1961.3 1970.5L1965.3 1970.5L1969.4 1970.5L1973.5 1970.5L1977.5 1970.5L1981.6 1970.5L1985.7 1970.5L1989.7 1970.5L1993.8 1970.5L1997.9 1970.5L2001.9 1970.5L2006.0 1970.5L2010.0 1970.5L2014.1 1970.5L2018.2 1970.5L2022.2 1970.5L2026.3 1970.5L2030.4 1970.5L2034.4 1970.5L2038.5 1970.5L2042.6 1970.5L2046.6 1970.5L2050.7 1970.5L2054.8 1970.5L2058.8 1970.5L2062.9 1970.5L2067.0 1970.5L2071.0 1970.5L2075.1 1970.5L2079.2 1970.5L2083.2 1970.5L2087.3 1970.5L2091.3 1970.5L2095.4 1970.5L2099.5 1970.5L2103.5 1970.5L2107.6 1970.5L2111.7 1970.5L2115.7 1970.5L2119.8 1970.5" fill="none" stroke="#e6dc32" stroke-width="10" stroke-linejoin="round"/>
<path d="M412.5 1970.5L416.6 1970.5L420.6 1970.5L424.7 1970.5L428.8 1970.5L432.8 1970.5L436.9 1970.5L441.0 1970.5L445.0 1970.5L449.1 1970.5L453.1 1970.5L457.2 1970.5L461.3 1970.5L465.3 1970.5L469.4 1970.5L473.5 1970.5L477.5 1970.5L481.6 1970.5L485.7 1970.5L489.7 1970.5L493.8 1970.5L497.9 1970.5L501.9 1970.5L506.0 1970.5L510.1 1970.5L514.1 1970.5L518.2 1970.5L522.3 1970.5L526.3 1970.5L530.4 1970.5L534.5 1970.5L538.5 1970.5L542.6 1970.5L546.6 1970.5L550.7 1970.5L554.8 1970.5L558.8 1970.5L562.9 1970.5L567.0 1970.5L571.0 1970.5L575.1 1970.5L579.2 1970.5L583.2 1970.5L587.3 1970.5L591.4 1970.5L595.4 1970.5L599.5 1970.5L603.6 1970.5L607.6 1970.5L611.7 1970.5L615.8 1970.5L619.8 1970.5L623.9 1970.5L627.9 1970.5L632.0 1970.5L636.1 1970.5L640.1 1970.5L644.2 1970.5L648.3 1970.5L652.3 1970.5L656.4 1970.5L660.5 1970.5L664.5 1970.5L668.6 1970.5L672.7 1970.5L676.7 1970.5L680.8 1970.5L684.9 1970.5L688.9 1970.5L693.0 1970.5L697.0 1970.5L701.1 1970.5L705.2 1970.5L709.2 1970.5L713.3 1970.5L717.4 1970.5L721.4 1970.5L725.5 1970.5L729.6 1970.5L733.6 1970.5L737.7 1970.5L741.8 1970.5L745.8 1970.5L749.9 1970.5L754.0 1970.5L758.0 1970.5L762.1 1970.5L766.2 1970.5L770.2 1970.5L774.3 1970.5L778.4 1970.5L782.4 1970.5L786.5 1970.5L790.5 1970.5L794.6 1970.5L798.7 1970.5L802.7 1970.5L806.8 1970.5L810.9 1970.5L814.9 1970.5L819.0 1970.5L823.1 1970.5L827.1 1970.5L831.2 1970.5L835.3 1970.5L839.3 1970.5L843.4 1970.5L847.5 1970.5L851.5 1970.5L855.6 1970.5L859.7 1970.5L863.7 1970.5L867.8 1970.5L871.8 1970.5L875.9 1970.5L880.0 1970.5L884.0 1970.5L888.1 1970.5L892.2 1970.5L896.2 1970.5L900.3 1970.5L904.4 1970.5L908.4 1970.5L912.5 1970.5L916.6 1970.5L920.6 1970.5L924.7 1970.5L928.8 1970.5L932.8 1970.5L936.9 1970.5L941.0 1970.5L945.0 1970.5L949.1 1970.5L953.1 1970.5L957.2 1970.5L961.3 1970.5L965.3 1970.5L969.4 1970.5L973.5 1970.5L977.5 1970.5L981.6 1970.5L985.7 1970.5L989.7 1970.5L993.8 1970.5L997.9 1970.5L1001.9 1970.5L1006.0 1970.5L1010.1 1970.5L1014.1 1970.5L1018.2 1970.5L1022.3 1970.5L1026.3 1970.5L1030.4 1970.5L1034.4 1970.5L1038.5 1970.5L1042.6 1970.5L1046.6 1970.5L1050.7 1970.5L1054.8 1970.5L1058.8 1970.5L1062.9 1970.5L1067.0 1970.5L1071.0 1970.5L1075.1 1970.5L1079.2 1970.5L1083.2 1970.5L1087.3 1970.5L1091.4 1970.5L1095.4 1970.5L1099.5 1970.5L1103.6 1970.5L1107.6 1970.5L1111.7 1970.5L1115.7 1970.4L1119.8 1970.4L1123.9 1970.4L1127.9 1970.4L1132.0 1970.4L1136.1 1970.4L1140.1 1970.4L1144.2 1970.4L1148.3 1970.4L1152.3 1970.4L1156.4 1970.4L1160.5 1970.3L1164.5 1970.3L1168.6 1970.3L1172.7 1970.3L1176.7 1970.3L1180.8 1970.2L1184.9 1970.2L1188.9 1970.2L1193.0 1970.1L1197.0 1970.1L1201.1 1970.1L1205.2 1970.0L1209.2 1970.0L1213.3 1969.9L1217.4 1969.9L1221.4 1969.8L1225.5 1969.8L1229.6 1969.7L1233.6 1969.6L1237.7 1969.5L1241.8 1969.4L1245.8 1969.3L1249.9 1969.2L1254.0 1969.1L1258.0 1969.0L1262.1 1968.9L1266.2 1968.7L1270.2 1968.6L1274.3 1968.4L1278.3 1968.3L1282.4 1968.1L1286.5 1967.9L1290.5 1967.7L1294.6 1967.4L1298.7 1967.2L1302.7 1966.9L1306.8 1966.6L1310.9 1966.3L1314.9 1966.0L1319.0 1965.6L1323.1 1965.3L1327.1 1964.9L1331.2 1964.4L1335.3 1964.0L1339.3 1963.5L1343.4 1963.0L1347.5 1962.4L1351.5 1961.9L1355.6 1961.2L1359.6 1960.6L1363.7 1959.9L1367.8 1959.2L1371.8 1958.4L1375.9 1957.6L1380.0 1956.7L1384.0 1955.8L1388.1 1954.8L1392.2 1953.8L1396.2 1952.7L1400.3 1951.6L1404.4 1950.4L1408.4 1949.1L1412.5 1947.8L1416.6 1946.4L1420.6 1945.0L1424.7 1943.5L1428.8 1941.9L1432.8 1940.2L1436.9 1938.5L1440.9 1936.7L1445.0 1934.8L1449.1 1932.8L1453.1 1930.7L1457.2 1928.6L1461.3 1926.3L1465.3 1924.0L1469.4 1921.6L1473.5 1919.0L1477.5 1916.4L1481.6 1913.7L1485.7 1910.9L1489.7 1908.0L1493.8 1905.0L1497.9 1901.9L1501.9 1898.7L1506.0 1895.4L1510.1 1892.0L1514.1 1888.5L1518.2 1884.9L1522.2 1881.2L1526.3 1877.4L1530.4 1873.5L1534.4 1869.5L1538.5 1865.4L1542.6 1861.2L1546.6 1856.9L1550.7 1852.6L1554.8 1848.1L1558.8 1843.5L1562.9 1838.9L1567.0 1834.2L1571.0 1829.4L1575.1 1824.5L1579.2 1819.5L1583.2 1814.5L1587.3 1809.4L1591.4 1804.3L1595.4 1799.1L1599.5 1793.9L1603.5 1788.6L1607.6 1783.3L1611.7 1777.9L1615.7 1772.6L1619.8 1767.2L1623.9 1761.8L1627.9 1756.4L1632.0 1751.0L1636.1 1745.6L1640.1 1740.2L1644.2 1734.8L1648.3 1729.5L1652.3 1724.2L1656.4 1719.0L1660.5 1713.8L1664.5 1708.6L1668.6 1703.6L1672.7 1698.6L1676.7 1693.7L1680.8 1688.9L1684.8 1684.2L1688.9 1679.6L1693.0 1675.2L1697.0 1670.8L1701.1 1666.6L1705.2 1662.5L1709.2 1658.6L1713.3 1654.8L1717.4 1651.2L1721.4 1647.8L1725.5 1644.5L1729.6 1641.4L1733.6 1638.5L1737.7 1635.8L1741.8 1633.3L1745.8 1630.9L1749.9 1628.8L1754.0 1626.9L1758.0 1625.2L1762.1 1623.7L1766.1 1622.5L1770.2 1621.4L1774.3 1620.6L1778.3 1620.0L1782.4 1619.6L1786.5 1619.5L1790.5 1619.6L1794.6 1619.9L1798.7 1620.4L1802.7 1621.2L1806.8 1622.2L1810.9 1623.4L1814.9 1624.8L1819.0 1626.4L1823.1 1628.3L1827.1 1630.4L1831.2 1632.6L1835.3 1635.1L1839.3 1637.8L1843.4 1640.6L1847.4 1643.7L1851.5 1646.9L1855.6 1650.3L1859.6 1653.9L1863.7 1657.6L1867.8 1661.5L1871.8 1665.5L1875.9 1669.7L1880.0 1674.0L1884.0 1678.5L1888.1 1683.0L1892.2 1687.7L1896.2 1692.5L1900.3 1697.3L1904.4 1702.3L1908.4 1707.3L1912.5 1712.4L1916.6 1717.6L1920.6 1722.8L1924.7 1728.1L1928.7 1733.4L1932.8 1738.8L1936.9 1744.2L1940.9 1749.5L1945.0 1755.0L1949.1 1760.4L1953.1 1765.8L1957.2 1771.2L1961.3 1776.5L1965.3 1781.9L1969.4 1787.2L1973.5 1792.5L1977.5 1797.8L1981.6 1803.0L1985.7 1808.1L1989.7 1813.2L1993.8 1818.2L1997.9 1823.2L2001.9 1828.1L2006.0 1832.9L2010.0 1837.7L2014.1 1842.3L2018.2 1846.9L2022.2 1851.4L2026.3 1855.8L2030.4 1860.1L2034.4 1864.3L2038.5 1868.5L2042.6 1872.5L2046.6 1876.4L2050.7 1880.2L2054.8 1884.0L2058.8 1887.6L2062.9 1891.1L2067.0 1894.6L2071.0 1897.9L2075.1 1901.1L2079.2 1904.2L2083.2 1907.3L2087.3 1910.2L2091.3 1913.0L2095.4 1915.7L2099.5 1918.4L2103.5 1920.9L2107.6 1923.4L2111.7 1925.7L2115.7 1928.0L2119.8 1930.2" fill="none" stroke="#00dc00" stroke-width="10" stroke-linejoin="round"/>
<path d="M412.5 1970.4L416.6 1970.4L420.6 1970.4L424.7 1970.4L428.8 1970.3L432.8 1970.3L436.9 1970.3L441.0 1970.3L445.0 1970.3L449.1 1970.3L453.1 1970.3L457.2 1970.2L461.3 1970.2L465.3 1970.2L469.4 1970.2L473.5 1970.1L477.5 1970.1L481.6 1970.1L485.7 1970.1L489.7 1970.0L493.8 1970.0L497.9 1970.0L501.9 1969.9L506.0 1969.9L510.1 1969.9L514.1 1969.8L518.2 1969.8L522.3 1969.7L526.3 1969.7L530.4 1969.6L534.5 1969.5L538.5 1969.5L542.6 1969.4L546.6 1969.3L550.7 1969.3L554.8 1969.2L558.8 1969.1L562.9 1969.0L567.0 1968.9L571.0 1968.8L575.1 1968.7L579.2 1968.6L583.2 1968.5L587.3 1968.4L591.4 1968.3L595.4 1968.1L599.5 1968.0L603.6 1967.9L607.6 1967.7L611.7 1967.6L615.8 1967.4L619.8 1967.2L623.9 1967.0L627.9 1966.8L632.0 1966.6L636.1 1966.4L640.1 1966.2L644.2 1966.0L648.3 1965.7L652.3 1965.5L656.4 1965.2L660.5 1964.9L664.5 1964.6L668.6 1964.3L672.7 1964.0L676.7 1963.7L680.8 1963.3L684.9 1963.0L688.9 1962.6L693.0 1962.2L697.0 1961.8L701.1 1961.4L705.2 1961.0L709.2 1960.5L713.3 1960.1L717.4 1959.6L721.4 1959.1L725.5 1958.6L729.6 1958.0L733.6 1957.5L737.7 1956.9L741.8 1956.3L745.8 1955.7L749.9 1955.0L754.0 1954.4L758.0 1953.7L762.1 1953.0L766.2 1952.3L770.2 1951.5L774.3 1950.8L778.4 1950.0L782.4 1949.2L786.5 1948.3L790.5 1947.5L794.6 1946.6L798.7 1945.7L802.7 1944.7L806.8 1943.8L810.9 1942.8L814.9 1941.8L819.0 1940.7L823.1 1939.7L827.1 1938.6L831.2 1937.5L835.3 1936.4L839.3 1935.2L843.4 1934.0L847.5 1932.8L851.5 1931.6L855.6 1930.3L859.7 1929.1L863.7 1927.8L867.8 1926.4L871.8 1925.1L875.9 1923.7L880.0 1922.3L884.0 1920.9L888.1 1919.5L892.2 1918.0L896.2 1916.6L900.3 1915.1L904.4 1913.5L908.4 1912.0L912.5 1910.5L916.6 1908.9L920.6 1907.3L924.7 1905.7L928.8 1904.1L932.8 1902.5L936.9 1900.9L941.0 1899.2L945.0 1897.6L949.1 1895.9L953.1 1894.3L957.2 1892.6L961.3 1890.9L965.3 1889.3L969.4 1887.6L973.5 1885.9L977.5 1884.2L981.6 1882.5L985.7 1880.8L989.7 1879.2L993.8 1877.5L997.9 1875.9L1001.9 1874.2L1006.0 1872.6L1010.1 1870.9L1014.1 1869.3L1018.2 1867.7L1022.3 1866.1L1026.3 1864.6L1030.4 1863.0L1034.4 1861.5L1038.5 1860.0L1042.6 1858.5L1046.6 1857.1L1050.7 1855.7L1054.8 1854.3L1058.8 1852.9L1062.9 1851.6L1067.0 1850.3L1071.0 1849.0L1075.1 1847.8L1079.2 1846.6L1083.2 1845.5L1087.3 1844.3L1091.4 1843.3L1095.4 1842.2L1099.5 1841.3L1103.6 1840.3L1107.6 1839.4L1111.7 1838.6L1115.7 1837.8L1119.8 1837.0L1123.9 1836.3L1127.9 1835.7L1132.0 1835.1L1136.1 1834.5L1140.1 1834.0L1144.2 1833.6L1148.3 1833.2L1152.3 1832.9L1156.4 1832.6L1160.5 1832.4L1164.5 1832.2L1168.6 1832.1L1172.7 1832.0L1176.7 1832.0L1180.8 1832.1L1184.9 1832.2L1188.9 1832.3L1193.0 1832.5L1197.0 1832.8L1201.1 1833.1L1205.2 1833.5L1209.2 1834.0L1213.3 1834.4L1217.4 1835.0L1221.4 1835.6L1225.5 1836.2L1229.6 1836.9L1233.6 1837.7L1237.7 1838.5L1241.8 1839.3L1245.8 1840.2L1249.9 1841.1L1254.0 1842.1L1258.0 1843.1L1262.1 1844.2L1266.2 1845.3L1270.2 1846.4L1274.3 1847.6L1278.3 1848.8L1282.4 1850.1L1286.5 1851.4L1290.5 1852.7L1294.6 1854.1L1298.7 1855.5L1302.7 1856.9L1306.8 1858.3L1310.9 1859.8L1314.9 1861.3L1319.0 1862.8L1323.1 1864.3L1327.1 1865.9L1331.2 1867.5L1335.3 1869.1L1339.3 1870.7L1343.4 1872.3L1347.5 1874.0L1351.5 1875.6L1355.6 1877.3L1359.6 1878.9L1363.7 1880.6L1367.8 1882.3L1371.8 1883.9L1375.9 1885.6L1380.0 1887.3L1384.0 1889.0L1388.1 1890.7L1392.2 1892.3L1396.2 1894.0L1400.3 1895.7L1404.4 1897.3L1408.4 1899.0L1412.5 1900.6L1416.6 1902.3L1420.6 1903.9L1424.7 1905.5L1428.8 1907.1L1432.8 1908.7L1436.9 1910.2L1440.9 1911.8L1445.0 1913.3L1449.1 1914.8L1453.1 1916.3L1457.2 1917.8L1461.3 1919.3L1465.3 1920.7L1469.4 1922.1L1473.5 1923.5L1477.5 1924.9L1481.6 1926.2L1485.7 1927.6L1489.7 1928.9L1493.8 1930.1L1497.9 1931.4L1501.9 1932.6L1506.0 1933.8L1510.1 1935.0L1514.1 1936.2L1518.2 1937.3L1522.2 1938.4L1526.3 1939.5L1530.4 1940.6L1534.4 1941.6L1538.5 1942.6L1542.6 1943.6L1546.6 1944.6L1550.7 1945.5L1554.8 1946.4L1558.8 1947.3L1562.9 1948.2L1567.0 1949.0L1571.0 1949.8L1575.1 1950.6L1579.2 1951.4L1583.2 1952.2L1587.3 1952.9L1591.4 1953.6L1595.4 1954.3L1599.5 1954.9L1603.5 1955.6L1607.6 1956.2L1611.7 1956.8L1615.7 1957.4L1619.8 1957.9L1623.9 1958.5L1627.9 1959.0L1632.0 1959.5L1636.1 1960.0L1640.1 1960.5L1644.2 1960.9L1648.3 1961.4L1652.3 1961.8L1656.4 1962.2L1660.5 1962.6L1664.5 1962.9L1668.6 1963.3L1672.7 1963.6L1676.7 1964.0L1680.8 1964.3L1684.8 1964.6L1688.9 1964.9L1693.0 1965.2L1697.0 1965.4L1701.1 1965.7L1705.2 1965.9L1709.2 1966.2L1713.3 1966.4L1717.4 1966.6L1721.4 1966.8L1725.5 1967.0L1729.6 1967.2L1733.6 1967.4L1737.7 1967.5L1741.8 1967.7L1745.8 1967.8L1749.9 1968.0L1754.0 1968.1L1758.0 1968.3L1762.1 1968.4L1766.1 1968.5L1770.2 1968.6L1774.3 1968.7L1778.3 1968.8L1782.4 1968.9L1786.5 1969.0L1790.5 1969.1L1794.6 1969.2L1798.7 1969.3L1802.7 1969.3L1806.8 1969.4L1810.9 1969.5L1814.9 1969.5L1819.0 1969.6L1823.1 1969.7L1827.1 1969.7L1831.2 1969.8L1835.3 1969.8L1839.3 1969.8L1843.4 1969.9L1847.4 1969.9L1851.5 1970.0L1855.6 1970.0L1859.6 1970.0L1863.7 1970.1L1867.8 1970.1L1871.8 1970.1L1875.9 1970.1L1880.0 1970.2L1884.0 1970.2L1888.1 1970.2L1892.2 1970.2L1896.2 1970.2L1900.3 1970.3L1904.4 1970.3L1908.4 1970.3L1912.5 1970.3L1916.6 1970.3L1920.6 1970.3L1924.7 1970.3L1928.7 1970.4L1932.8 1970.4L1936.9 1970.4L1940.9 1970.4L1945.0 1970.4L1949.1 1970.4L1953.1 1970.4L1957.2 1970.4L1961.3 1970.4L1965.3 1970.4L1969.4 1970.4L1973.5 1970.4L1977.5 1970.4L1981.6 1970.4L1985.7 1970.5L1989.7 1970.5L1993.8 1970.5L1997.9 1970.5L2001.9 1970.5L2006.0 1970.5L2010.0 1970.5L2014.1 1970.5L2018.2 1970.5L2022.2 1970.5L2026.3 1970.5L2030.4 1970.5L2034.4 1970.5L2038.5 1970.5L2042.6 1970.5L2046.6 1970.5L2050.7 1970.5L2054.8 1970.5L2058.8 1970.5L2062.9 1970.5L2067.0 1970.5L2071.0 1970.5L2075.1 1970.5L2079.2 1970.5L2083.2 1970.5L2087.3 1970.5L2091.3 1970.5L2095.4 1970.5L2099.5 1970.5L2103.5 1970.5L2107.6 1970.5L2111.7 1970.5L2115.7 1970.5L2119.8 1970.5" fill="none" stroke="#009aff" stroke-width="10" stroke-linejoin="round"/>
<path d="M412.5 1970.4L416.6 1970.4L420.6 1970.4L424.7 1970.4L428.8 1970.3L432.8 1970.3L436.9 1970.3L441.0 1970.3L445.0 1970.2L449.1 1970.2L453.1 1970.2L457.2 1970.1L461.3 1970.1L465.3 1970.0L469.4 1970.0L473.5 1969.9L477.5 1969.8L481.6 1969.8L485.7 1969.7L489.7 1969.6L493.8 1969.5L497.9 1969.4L501.9 1969.3L506.0 1969.1L510.1 1969.0L514.1 1968.8L518.2 1968.7L522.3 1968.5L526.3 1968.3L530.4 1968.1L534.5 1967.8L538.5 1967.6L542.6 1967.3L546.6 1967.0L550.7 1966.7L554.8 1966.4L558.8 1966.0L562.9 1965.6L567.0 1965.2L571.0 1964.8L575.1 1964.4L579.2 1963.9L583.2 1963.4L587.3 1962.8L591.4 1962.3L595.4 1961.7L599.5 1961.0L603.6 1960.4L607.6 1959.7L611.7 1959.0L615.8 1958.2L619.8 1957.4L623.9 1956.6L627.9 1955.8L632.0 1954.9L636.1 1954.0L640.1 1953.1L644.2 1952.1L648.3 1951.1L652.3 1950.1L656.4 1949.1L660.5 1948.0L664.5 1946.9L668.6 1945.8L672.7 1944.7L676.7 1943.6L680.8 1942.4L684.9 1941.3L688.9 1940.1L693.0 1939.0L697.0 1937.8L701.1 1936.7L705.2 1935.5L709.2 1934.4L713.3 1933.3L717.4 1932.2L721.4 1931.1L725.5 1930.1L729.6 1929.0L733.6 1928.0L737.7 1927.1L741.8 1926.2L745.8 1925.3L749.9 1924.5L754.0 1923.7L758.0 1923.0L762.1 1922.3L766.2 1921.7L770.2 1921.1L774.3 1920.6L778.4 1920.2L782.4 1919.8L786.5 1919.5L790.5 1919.3L794.6 1919.1L798.7 1919.0L802.7 1919.0L806.8 1919.0L810.9 1919.2L814.9 1919.4L819.0 1919.6L823.1 1919.9L827.1 1920.3L831.2 1920.8L835.3 1921.3L839.3 1921.9L843.4 1922.5L847.5 1923.2L851.5 1924.0L855.6 1924.8L859.7 1925.6L863.7 1926.5L867.8 1927.4L871.8 1928.4L875.9 1929.4L880.0 1930.4L884.0 1931.5L888.1 1932.6L892.2 1933.7L896.2 1934.8L900.3 1936.0L904.4 1937.1L908.4 1938.3L912.5 1939.4L916.6 1940.6L920.6 1941.7L924.7 1942.9L928.8 1944.0L932.8 1945.1L936.9 1946.2L941.0 1947.3L945.0 1948.4L949.1 1949.4L953.1 1950.5L957.2 1951.5L961.3 1952.4L965.3 1953.4L969.4 1954.3L973.5 1955.2L977.5 1956.1L981.6 1956.9L985.7 1957.7L989.7 1958.5L993.8 1959.2L997.9 1959.9L1001.9 1960.6L1006.0 1961.3L1010.1 1961.9L1014.1 1962.5L1018.2 1963.0L1022.3 1963.6L1026.3 1964.1L1030.4 1964.5L1034.4 1965.0L1038.5 1965.4L1042.6 1965.8L1046.6 1966.2L1050.7 1966.5L1054.8 1966.8L1058.8 1967.1L1062.9 1967.4L1067.0 1967.7L1071.0 1967.9L1075.1 1968.1L1079.2 1968.3L1083.2 1968.5L1087.3 1968.7L1091.4 1968.9L1095.4 1969.0L1099.5 1969.2L1103.6 1969.3L1107.6 1969.4L1111.7 1969.5L1115.7 1969.6L1119.8 1969.7L1123.9 1969.8L1127.9 1969.9L1132.0 1969.9L1136.1 1970.0L1140.1 1970.0L1144.2 1970.1L1148.3 1970.1L1152.3 1970.2L1156.4 1970.2L1160.5 1970.2L1164.5 1970.3L1168.6 1970.3L1172.7 1970.3L1176.7 1970.3L1180.8 1970.4L1184.9 1970.4L1188.9 1970.4L1193.0 1970.4L1197.0 1970.4L1201.1 1970.4L1205.2 1970.4L1209.2 1970.4L1213.3 1970.5L1217.4 1970.5L1221.4 1970.5L1225.5 1970.5L1229.6 1970.5L1233.6 1970.5L1237.7 1970.5L1241.8 1970.5L1245.8 1970.5L1249.9 1970.5L1254.0 1970.5L1258.0 1970.5L1262.1 1970.5L1266.2 1970.5L1270.2 1970.5L1274.3 1970.5L1278.3 1970.5L1282.4 1970.5L1286.5 1970.5L1290.5 1970.5L1294.6 1970.5L1298.7 1970.5L1302.7 1970.5L1306.8 1970.5L1310.9 1970.5L1314.9 1970.5L1319.0 1970.5L1323.1 1970.5L1327.1 1970.5L1331.2 1970.5L1335.3 1970.5L1339.3 1970.5L1343.4 1970.5L1347.5 1970.5L1351.5 1970.5L1355.6 1970.5L1359.6 1970.5L1363.7 1970.5L1367.8 1970.5L1371.8 1970.5L1375.9 1970.5L1380.0 1970.5L1384.0 1970.5L1388.1 1970.5L1392.2 1970.5L1396.2 1970.5L1400.3 1970.5L1404.4 1970.5L1408.4 1970.5L1412.5 1970.5L1416.6 1970.5L1420.6 1970.5L1424.7 1970.5L1428.8 1970.5L1432.8 1970.5L1436.9 1970.5L1440.9 1970.5L1445.0 1970.5L1449.1 1970.5L1453.1 1970.5L1457.2 1970.5L1461.3 1970.5L1465.3 1970.5L1469.4 1970.5L1473.5 1970.5L1477.5 1970.5L1481.6 1970.5L1485.7 1970.5L1489.7 1970.5L1493.8 1970.5L1497.9 1970.5L1501.9 1970.5L1506.0 1970.5L1510.1 1970.5L1514.1 1970.5L1518.2 1970.5L1522.2 1970.5L1526.3 1970.5L1530.4 1970.5L1534.4 1970.5L1538.5 1970.5L1542.6 1970.5L1546.6 1970.5L1550.7 1970.5L1554.8 1970.5L1558.8 1970.5L1562.9 1970.5L1567.0 1970.5L1571.0 1970.5L1575.1 1970.5L1579.2 1970.5L1583.2 1970.5L1587.3 1970.5L1591.4 1970.5L1595.4 1970.5L1599.5 1970.5L1603.5 1970.5L1607.6 1970.5L1611.7 1970.5L1615.7 1970.5L1619.8 1970.5L1623.9 1970.5L1627.9 1970.5L1632.0 1970.5L1636.1 1970.5L1640.1 1970.5L1644.2 1970.5L1648.3 1970.5L1652.3 1970.5L1656.4 1970.5L1660.5 1970.5L1664.5 1970.5L1668.6 1970.5L1672.7 1970.5L1676.7 1970.5L1680.8 1970.5L1684.8 1970.5L1688.9 1970.5L1693.0 1970.5L1697.0 1970.5L1701.1 1970.5L1705.2 1970.5L1709.2 1970.5L1713.3 1970.5L1717.4 1970.5L1721.4 1970.5L1725.5 1970.5L1729.6 1970.5L1733.6 1970.5L1737.7 1970.5L1741.8 1970.5L1745.8 1970.5L1749.9 1970.5L1754.0 1970.5L1758.0 1970.5L1762.1 1970.5L1766.1 1970.5L1770.2 1970.5L1774.3 1970.5L1778.3 1970.5L1782.4 1970.5L1786.5 1970.5L1790.5 1970.5L1794.6 1970.5L1798.7 1970.5L1802.7 1970.5L1806.8 1970.5L1810.9 1970.5L1814.9 1970.5L1819.0 1970.5L1823.1 1970.5L1827.1 1970.5L1831.2 1970.5L1835.3 1970.5L1839.3 1970.5L1843.4 1970.5L1847.4 1970.5L1851.5 1970.5L1855.6 1970.5L1859.6 1970.5L1863.7 1970.5L1867.8 1970.5L1871.8 1970.5L1875.9 1970.5L1880.0 1970.5L1884.0 1970.5L1888.1 1970.5L1892.2 1970.5L1896.2 1970.5L1900.3 1970.5L1904.4 1970.5L1908.4 1970.5L1912.5 1970.5L1916.6 1970.5L1920.6 1970.5L1924.7 1970.5L1928.7 1970.5L1932.8 1970.5L1936.9 1970.5L1940.9 1970.5L1945.0 1970.5L1949.1 1970.5L1953.1 1970.5L1957.2 1970.5L1961.3 1970.5L1965.3 1970.5L1969.4 1970.5L1973.5 1970.5L1977.5 1970.5L1981.6 1970.5L1985.7 1970.5L1989.7 1970.5L1993.8 1970.5L1997.9 1970.5L2001.9 1970.5L2006.0 1970.5L2010.0 1970.5L2014.1 1970.5L2018.2 1970.5L2022.2 1970.5L2026.3 1970.5L2030.4 1970.5L2034.4 1970.5L2038.5 1970.5L2042.6 1970.5L2046.6 1970.5L2050.7 1970.5L2054.8 1970.5L2058.8 1970.5L2062.9 1970.5L2067.0 1970.5L2071.0 1970.5L2075.1 1970.5L2079.2 1970.5L2083.2 1970.5L2087.3 1970.5L2091.3 1970.5L2095.4 1970.5L2099.5 1970.5L2103.5 1970.5L2107.6 1970.5L2111.7 1970.5L2115.7 1970.5L2119.8 1970.5" fill="none" stroke="#9b00c9" stroke-width="10" stroke-linejoin="round"/>
<path d="M412.5 1970.3L416.6 1970.3L420.6 1970.2L424.7 1970.2L428.8 1970.2L432.8 1970.1L436.9 1970.1L441.0 1970.1L445.0 1970.0L449.1 1970.0L453.1 1969.9L457.2 1969.9L461.3 1969.8L465.3 1969.7L469.4 1969.6L473.5 1969.6L477.5 1969.5L481.6 1969.4L485.7 1969.2L489.7 1969.1L493.8 1969.0L497.9 1968.8L501.9 1968.7L506.0 1968.5L510.1 1968.3L514.1 1968.1L518.2 1967.9L522.3 1967.7L526.3 1967.4L530.4 1967.2L534.5 1966.9L538.5 1966.6L542.6 1966.2L546.6 1965.9L550.7 1965.5L554.8 1965.1L558.8 1964.6L562.9 1964.2L567.0 1963.7L571.0 1963.2L575.1 1962.6L579.2 1962.0L583.2 1961.4L587.3 1960.7L591.4 1960.0L595.4 1959.3L599.5 1958.6L603.6 1957.7L607.6 1956.9L611.7 1956.0L615.8 1955.1L619.8 1954.1L623.9 1953.1L627.9 1952.1L632.0 1951.0L636.1 1949.9L640.1 1948.8L644.2 1947.6L648.3 1946.3L652.3 1945.1L656.4 1943.8L660.5 1942.4L664.5 1941.0L668.6 1939.6L672.7 1938.2L676.7 1936.8L680.8 1935.3L684.9 1933.8L688.9 1932.3L693.0 1930.7L697.0 1929.2L701.1 1927.6L705.2 1926.0L709.2 1924.4L713.3 1922.9L717.4 1921.3L721.4 1919.7L725.5 1918.1L729.6 1916.6L733.6 1915.0L737.7 1913.5L741.8 1912.0L745.8 1910.5L749.9 1909.0L754.0 1907.6L758.0 1906.2L762.1 1904.8L766.2 1903.4L770.2 1902.1L774.3 1900.9L778.4 1899.6L782.4 1898.5L786.5 1897.3L790.5 1896.2L794.6 1895.2L798.7 1894.2L802.7 1893.2L806.8 1892.3L810.9 1891.4L814.9 1890.6L819.0 1889.9L823.1 1889.1L827.1 1888.4L831.2 1887.8L835.3 1887.2L839.3 1886.6L843.4 1886.0L847.5 1885.5L851.5 1885.1L855.6 1884.6L859.7 1884.2L863.7 1883.8L867.8 1883.4L871.8 1883.0L875.9 1882.6L880.0 1882.3L884.0 1881.9L888.1 1881.6L892.2 1881.2L896.2 1880.9L900.3 1880.5L904.4 1880.1L908.4 1879.8L912.5 1879.4L916.6 1879.0L920.6 1878.5L924.7 1878.1L928.8 1877.6L932.8 1877.1L936.9 1876.6L941.0 1876.1L945.0 1875.5L949.1 1874.9L953.1 1874.2L957.2 1873.6L961.3 1872.9L965.3 1872.1L969.4 1871.4L973.5 1870.6L977.5 1869.8L981.6 1868.9L985.7 1868.1L989.7 1867.2L993.8 1866.2L997.9 1865.3L1001.9 1864.3L1006.0 1863.3L1010.1 1862.3L1014.1 1861.3L1018.2 1860.2L1022.3 1859.2L1026.3 1858.1L1030.4 1857.0L1034.4 1855.9L1038.5 1854.8L1042.6 1853.7L1046.6 1852.6L1050.7 1851.5L1054.8 1850.4L1058.8 1849.3L1062.9 1848.2L1067.0 1847.1L1071.0 1846.0L1075.1 1844.9L1079.2 1843.7L1083.2 1842.6L1087.3 1841.5L1091.4 1840.4L1095.4 1839.3L1099.5 1838.1L1103.6 1836.9L1107.6 1835.8L1111.7 1834.5L1115.7 1833.2L1119.8 1831.9L1123.9 1830.5L1127.9 1829.0L1132.0 1827.5L1136.1 1825.8L1140.1 1824.0L1144.2 1822.1L1148.3 1820.0L1152.3 1817.7L1156.4 1815.3L1160.5 1812.6L1164.5 1809.6L1168.6 1806.4L1172.7 1802.9L1176.7 1799.1L1180.8 1794.9L1184.9 1790.3L1188.9 1785.4L1193.0 1780.1L1197.0 1774.3L1201.1 1768.1L1205.2 1761.4L1209.2 1754.2L1213.3 1746.6L1217.4 1738.4L1221.4 1729.8L1225.5 1720.7L1229.6 1711.2L1233.6 1701.2L1237.7 1690.8L1241.8 1680.0L1245.8 1668.8L1249.9 1657.3L1254.0 1645.6L1258.0 1633.6L1262.1 1621.5L1266.2 1609.3L1270.2 1597.1L1274.3 1584.9L1278.3 1572.8L1282.4 1561.0L1286.5 1549.3L1290.5 1538.1L1294.6 1527.2L1298.7 1516.9L1302.7 1507.0L1306.8 1497.8L1310.9 1489.3L1314.9 1481.4L1319.0 1474.3L1323.1 1468.0L1327.1 1462.5L1331.2 1457.9L1335.3 1454.0L1339.3 1451.0L1343.4 1448.7L1347.5 1447.3L1351.5 1446.5L1355.6 1446.4L1359.6 1447.0L1363.7 1448.2L1367.8 1449.8L1371.8 1451.9L1375.9 1454.3L1380.0 1457.0L1384.0 1459.8L1388.1 1462.8L1392.2 1465.8L1396.2 1468.8L1400.3 1471.6L1404.4 1474.3L1408.4 1476.7L1412.5 1478.8L1416.6 1480.5L1420.6 1481.9L1424.7 1482.8L1428.8 1483.3L1432.8 1483.3L1436.9 1482.9L1440.9 1482.0L1445.0 1480.7L1449.1 1479.0L1453.1 1476.9L1457.2 1474.5L1461.3 1471.8L1465.3 1468.8L1469.4 1465.7L1473.5 1462.5L1477.5 1459.2L1481.6 1455.9L1485.7 1452.6L1489.7 1449.5L1493.8 1446.6L1497.9 1443.9L1501.9 1441.6L1506.0 1439.6L1510.1 1437.9L1514.1 1436.7L1518.2 1436.0L1522.2 1435.8L1526.3 1436.1L1530.4 1437.0L1534.4 1438.4L1538.5 1440.3L1542.6 1442.8L1546.6 1445.8L1550.7 1449.3L1554.8 1453.4L1558.8 1457.8L1562.9 1462.8L1567.0 1468.1L1571.0 1473.7L1575.1 1479.7L1579.2 1486.0L1583.2 1492.5L1587.3 1499.1L1591.4 1505.9L1595.4 1512.8L1599.5 1519.7L1603.5 1526.6L1607.6 1533.4L1611.7 1540.2L1615.7 1546.8L1619.8 1553.2L1623.9 1559.5L1627.9 1565.5L1632.0 1571.2L1636.1 1576.6L1640.1 1581.8L1644.2 1586.6L1648.3 1591.0L1652.3 1595.2L1656.4 1599.0L1660.5 1602.4L1664.5 1605.5L1668.6 1608.2L1672.7 1610.7L1676.7 1612.8L1680.8 1614.5L1684.8 1616.0L1688.9 1617.2L1693.0 1618.1L1697.0 1618.8L1701.1 1619.3L1705.2 1619.5L1709.2 1619.6L1713.3 1619.5L1717.4 1619.3L1721.4 1619.0L1725.5 1618.6L1729.6 1618.1L1733.6 1617.6L1737.7 1617.0L1741.8 1616.5L1745.8 1615.9L1749.9 1615.4L1754.0 1615.0L1758.0 1614.6L1762.1 1614.3L1766.1 1614.0L1770.2 1613.9L1774.3 1613.9L1778.3 1614.1L1782.4 1614.4L1786.5 1614.8L1790.5 1615.5L1794.6 1616.2L1798.7 1617.2L1802.7 1618.3L1806.8 1619.6L1810.9 1621.1L1814.9 1622.8L1819.0 1624.6L1823.1 1626.7L1827.1 1628.9L1831.2 1631.3L1835.3 1633.9L1839.3 1636.7L1843.4 1639.7L1847.4 1642.8L1851.5 1646.1L1855.6 1649.6L1859.6 1653.2L1863.7 1657.0L1867.8 1661.0L1871.8 1665.1L1875.9 1669.3L1880.0 1673.6L1884.0 1678.1L1888.1 1682.7L1892.2 1687.4L1896.2 1692.2L1900.3 1697.1L1904.4 1702.0L1908.4 1707.1L1912.5 1712.2L1916.6 1717.4L1920.6 1722.7L1924.7 1728.0L1928.7 1733.3L1932.8 1738.6L1936.9 1744.0L1940.9 1749.4L1945.0 1754.8L1949.1 1760.3L1953.1 1765.7L1957.2 1771.1L1961.3 1776.5L1965.3 1781.8L1969.4 1787.2L1973.5 1792.4L1977.5 1797.7L1981.6 1802.9L1985.7 1808.1L1989.7 1813.2L1993.8 1818.2L1997.9 1823.2L2001.9 1828.1L2006.0 1832.9L2010.0 1837.6L2014.1 1842.3L2018.2 1846.9L2022.2 1851.4L2026.3 1855.8L2030.4 1860.1L2034.4 1864.3L2038.5 1868.4L2042.6 1872.5L2046.6 1876.4L2050.7 1880.2L2054.8 1884.0L2058.8 1887.6L2062.9 1891.1L2067.0 1894.5L2071.0 1897.9L2075.1 1901.1L2079.2 1904.2L2083.2 1907.2L2087.3 1910.2L2091.3 1913.0L2095.4 1915.7L2099.5 1918.4L2103.5 1920.9L2107.6 1923.4L2111.7 1925.7L2115.7 1928.0L2119.8 1930.1" fill="none" stroke="#ff0000" stroke-width="10.6" stroke-linejoin="round"/>
</g>
<text x="663.8" y="2157.3" font-family="'Liberation Sans', Arial, sans-serif" font-weight="700" font-size="96.0" text-anchor="middle" textLength="219" lengthAdjust="spacingAndGlyphs">3100</text>
<text x="1145.5" y="2157.3" font-family="'Liberation Sans', Arial, sans-serif" font-weight="700" font-size="96.0" text-anchor="middle" textLength="219" lengthAdjust="spacingAndGlyphs">3000</text>
<text x="1627.1" y="2157.3" font-family="'Liberation Sans', Arial, sans-serif" font-weight="700" font-size="96.0" text-anchor="middle" textLength="219" lengthAdjust="spacingAndGlyphs">2900</text>
<text x="2108.7" y="2157.3" font-family="'Liberation Sans', Arial, sans-serif" font-weight="700" font-size="96.0" text-anchor="middle" textLength="219" lengthAdjust="spacingAndGlyphs">2800</text>
<text x="849" y="2330.0" font-family="'Liberation Sans', Arial, sans-serif" font-weight="700" font-size="92.5" textLength="840" lengthAdjust="spacingAndGlyphs">Wavenumber (cm<tspan font-size="60" dy="-33">-1</tspan><tspan dy="33">)</tspan></text>
<text transform="translate(526.31 1746.00) scale(1.0902 1.000)" font-family="'Liberation Serif', 'DejaVu Serif', serif" font-weight="400" font-size="87.0" fill="#000" stroke="#000" stroke-width="1.6">ν</text>
<text transform="translate(570.24 1767.00) scale(0.8944 1.000)" font-family="'Liberation Sans', Arial, sans-serif" font-weight="400" font-size="49.5" fill="#000" stroke="#000" stroke-width="1.7">as</text>
<text transform="translate(618.41 1742.60) scale(0.8990 1.054)" font-family="'Liberation Sans', Arial, sans-serif" font-weight="700" font-size="71.0" fill="#000">(</text>
<text transform="translate(642.74 1743.70) scale(0.9140 1.000)" font-family="'Liberation Sans', Arial, sans-serif" font-weight="700" font-size="71.0" fill="#000">=CH</text>
<text transform="translate(776.29 1767.00) scale(1.0074 1.000)" font-family="'Liberation Sans', Arial, sans-serif" font-weight="700" font-size="48.5" fill="#000">2</text>
<text transform="translate(807.34 1742.60) scale(0.8790 1.054)" font-family="'Liberation Sans', Arial, sans-serif" font-weight="700" font-size="71.0" fill="#000">)</text>
<line x1="693.3" y1="1785.4" x2="735.7" y2="1851.1" stroke="#000" stroke-width="3.8"/>
<polygon points="762.3,1892.3 722.0,1855.2 745.1,1840.3" fill="#000"/>
<text transform="translate(880.51 1646.00) scale(1.0687 1.000)" font-family="'Liberation Serif', 'DejaVu Serif', serif" font-weight="400" font-size="87.0" fill="#000" stroke="#000" stroke-width="1.6">ν</text>
<text transform="translate(923.48 1643.50) scale(0.8790 1.054)" font-family="'Liberation Sans', Arial, sans-serif" font-weight="700" font-size="71.0" fill="#000">(</text>
<text transform="translate(948.07 1644.60) scale(0.9514 1.000)" font-family="'Liberation Sans', Arial, sans-serif" font-weight="700" font-size="71.0" fill="#000">-CH-</text>
<text transform="translate(1094.84 1643.50) scale(0.8790 1.054)" font-family="'Liberation Sans', Arial, sans-serif" font-weight="700" font-size="71.0" fill="#000">)</text>
<line x1="1013.0" y1="1674.3" x2="1083.3" y2="1769.8" stroke="#000" stroke-width="3.8"/>
<polygon points="1112.4,1809.3 1069.9,1774.8 1092.0,1758.5" fill="#000"/>
<text transform="translate(1055.11 1423.20) scale(1.0714 1.000)" font-family="'Liberation Serif', 'DejaVu Serif', serif" font-weight="400" font-size="87.0" fill="#000" stroke="#000" stroke-width="1.6">ν</text>
<text transform="translate(1098.34 1444.70) scale(0.8033 1.000)" font-family="'Liberation Sans', Arial, sans-serif" font-weight="700" font-size="48.5" fill="#000">s</text>
<text transform="translate(1120.00 1420.70) scale(0.8441 1.054)" font-family="'Liberation Sans', Arial, sans-serif" font-weight="700" font-size="71.0" fill="#000">(</text>
<text transform="translate(1145.35 1421.80) scale(0.9089 1.000)" font-family="'Liberation Sans', Arial, sans-serif" font-weight="700" font-size="71.0" fill="#000">=CH</text>
<text transform="translate(1278.43 1444.70) scale(0.9816 1.000)" font-family="'Liberation Sans', Arial, sans-serif" font-weight="700" font-size="48.5" fill="#000">2</text>
<text transform="translate(1309.24 1420.70) scale(0.8790 1.054)" font-family="'Liberation Sans', Arial, sans-serif" font-weight="700" font-size="71.0" fill="#000">)</text>
<line x1="1232.8" y1="1477.3" x2="1274.8" y2="1543.0" stroke="#000" stroke-width="3.8"/>
<polygon points="1301.2,1584.3 1261.1,1547.1 1284.2,1532.2" fill="#000"/>
<text transform="translate(1587.02 1399.60) scale(1.0579 1.000)" font-family="'Liberation Serif', 'DejaVu Serif', serif" font-weight="400" font-size="87.0" fill="#000" stroke="#000" stroke-width="1.6">ν</text>
<text transform="translate(1629.48 1396.50) scale(0.8790 1.054)" font-family="'Liberation Sans', Arial, sans-serif" font-weight="700" font-size="71.0" fill="#000">(</text>
<text transform="translate(1653.95 1397.60) scale(0.9221 1.000)" font-family="'Liberation Sans', Arial, sans-serif" font-weight="700" font-size="71.0" fill="#000">-CH</text>
<text transform="translate(1772.85 1420.50) scale(0.9731 1.000)" font-family="'Liberation Sans', Arial, sans-serif" font-weight="700" font-size="48.5" fill="#000">2</text>
<text transform="translate(1798.81 1397.60) scale(1.1146 1.000)" font-family="'Liberation Sans', Arial, sans-serif" font-weight="700" font-size="71.0" fill="#000">-</text>
<text transform="translate(1828.94 1396.50) scale(0.8391 1.054)" font-family="'Liberation Sans', Arial, sans-serif" font-weight="700" font-size="71.0" fill="#000">)</text>
<line x1="1665.0" y1="1431.0" x2="1575.9" y2="1526.6" stroke="#000" stroke-width="3.8"/>
<polygon points="1542.5,1562.5 1568.6,1514.3 1588.7,1533.1" fill="#000"/>
<text transform="translate(1902.82 1446.10) scale(1.0579 1.000)" font-family="'Liberation Serif', 'DejaVu Serif', serif" font-weight="400" font-size="87.0" fill="#000" stroke="#000" stroke-width="1.6">ν</text>
<text transform="translate(1945.29 1443.70) scale(0.8491 1.054)" font-family="'Liberation Sans', Arial, sans-serif" font-weight="700" font-size="71.0" fill="#000">(</text>
<text transform="translate(1969.75 1444.80) scale(0.9204 1.000)" font-family="'Liberation Sans', Arial, sans-serif" font-weight="700" font-size="71.0" fill="#000">-CH</text>
<text transform="translate(2087.59 1467.20) scale(0.9915 1.000)" font-family="'Liberation Sans', Arial, sans-serif" font-weight="700" font-size="48.5" fill="#000">3</text>
<text transform="translate(2118.34 1443.70) scale(0.8790 1.054)" font-family="'Liberation Sans', Arial, sans-serif" font-weight="700" font-size="71.0" fill="#000">)</text>
<line x1="1955.0" y1="1481.0" x2="1865.9" y2="1576.6" stroke="#000" stroke-width="3.8"/>
<polygon points="1832.5,1612.5 1858.6,1564.3 1878.7,1583.1" fill="#000"/>
<text x="33" y="2431" font-family="'Liberation Sans', Arial, sans-serif" font-weight="700" font-size="127">(c)</text>
<text transform="translate(289.5 3030.3) rotate(-90)" font-family="'Liberation Sans', Arial, sans-serif" font-weight="700" font-size="92.5" textLength="539" lengthAdjust="spacingAndGlyphs">Absorbance</text>
<rect x="409" y="2412.6" width="19.3" height="257.6" fill="#000"/>
<text x="453" y="2549.5" font-family="'Liberation Sans', Arial, sans-serif" font-size="80">0.002</text>
<clipPath id="cc"><rect x="422" y="2300" width="1691" height="867"/></clipPath>
<path clip-path="url(#cc)" d="M407.5 2699.0C410.0 2700.7 415.4 2704.2 422.5 2709.0C429.6 2713.8 441.2 2721.5 450.0 2727.5C458.8 2733.5 468.3 2741.1 475.0 2745.0C481.7 2748.9 484.2 2749.8 490.0 2751.0C495.8 2752.2 504.2 2751.0 510.0 2752.5C515.8 2754.0 518.3 2755.6 525.0 2760.0C531.7 2764.4 542.5 2774.4 550.0 2779.0C557.5 2783.6 562.5 2784.2 570.0 2787.5C577.5 2790.8 587.5 2796.5 595.0 2799.0C602.5 2801.5 609.2 2800.8 615.0 2802.5C620.8 2804.2 625.0 2806.5 630.0 2809.0C635.0 2811.5 639.2 2815.0 645.0 2817.5C650.8 2820.0 659.2 2821.5 665.0 2824.0C670.8 2826.5 675.0 2829.4 680.0 2832.5C685.0 2835.6 689.2 2839.8 695.0 2842.5C700.8 2845.2 708.3 2846.5 715.0 2849.0C721.7 2851.5 728.3 2855.7 735.0 2857.5C741.7 2859.3 748.3 2858.6 755.0 2860.0C761.7 2861.4 768.3 2864.0 775.0 2866.0C781.7 2868.0 789.2 2870.7 795.0 2872.0C800.8 2873.3 805.0 2873.8 810.0 2874.0C815.0 2874.2 820.4 2872.4 825.0 2873.0C829.6 2873.6 833.3 2874.8 837.5 2877.5C841.7 2880.2 845.4 2884.6 850.0 2889.0C854.6 2893.4 860.0 2899.8 865.0 2904.0C870.0 2908.2 875.4 2911.7 880.0 2914.0C884.6 2916.3 888.3 2917.0 892.5 2918.0C896.7 2919.0 900.4 2918.7 905.0 2920.0C909.6 2921.3 915.4 2924.2 920.0 2926.0C924.6 2927.8 927.5 2930.0 932.5 2931.0C937.5 2932.0 945.0 2931.0 950.0 2932.0C955.0 2933.0 958.3 2935.8 962.5 2937.0C966.7 2938.2 971.2 2939.3 975.0 2939.0C978.8 2938.7 981.7 2937.3 985.0 2935.0C988.3 2932.7 991.7 2928.8 995.0 2925.0C998.3 2921.2 1001.2 2916.5 1005.0 2912.5C1008.8 2908.5 1012.9 2904.1 1017.5 2901.0C1022.1 2897.9 1027.9 2897.1 1032.5 2894.0C1037.1 2890.9 1040.8 2887.3 1045.0 2882.5C1049.2 2877.7 1053.3 2871.7 1057.5 2865.0C1061.7 2858.3 1065.4 2850.4 1070.0 2842.5C1074.6 2834.6 1080.0 2825.1 1085.0 2817.5C1090.0 2809.9 1094.2 2805.3 1100.0 2797.0C1105.8 2788.7 1113.3 2777.3 1120.0 2767.5C1126.7 2757.7 1133.3 2746.4 1140.0 2738.0C1146.7 2729.6 1153.3 2723.8 1160.0 2717.0C1166.7 2710.2 1173.3 2703.8 1180.0 2697.5C1186.7 2691.2 1194.2 2683.4 1200.0 2679.0C1205.8 2674.6 1210.8 2672.8 1215.0 2671.0C1219.2 2669.2 1220.8 2668.3 1225.0 2668.0C1229.2 2667.7 1235.0 2668.5 1240.0 2669.0C1245.0 2669.5 1250.0 2670.3 1255.0 2671.0C1260.0 2671.7 1265.0 2671.8 1270.0 2673.0C1275.0 2674.2 1280.0 2675.7 1285.0 2678.0C1290.0 2680.3 1294.2 2683.3 1300.0 2687.0C1305.8 2690.7 1313.3 2695.2 1320.0 2700.0C1326.7 2704.8 1333.3 2710.2 1340.0 2716.0C1346.7 2721.8 1353.3 2728.7 1360.0 2735.0C1366.7 2741.3 1373.3 2747.8 1380.0 2754.0C1386.7 2760.2 1393.3 2767.3 1400.0 2772.5C1406.7 2777.7 1413.3 2780.8 1420.0 2785.0C1426.7 2789.2 1434.2 2792.9 1440.0 2797.5C1445.8 2802.1 1450.0 2806.7 1455.0 2812.5C1460.0 2818.3 1464.2 2825.8 1470.0 2832.5C1475.8 2839.2 1483.3 2846.9 1490.0 2852.5C1496.7 2858.1 1503.3 2861.6 1510.0 2866.0C1516.7 2870.4 1523.3 2874.3 1530.0 2879.0C1536.7 2883.7 1544.2 2889.7 1550.0 2894.0C1555.8 2898.3 1560.0 2901.9 1565.0 2905.0C1570.0 2908.1 1574.2 2910.5 1580.0 2912.5C1585.8 2914.5 1593.8 2915.1 1600.0 2916.9C1606.2 2918.7 1611.5 2920.5 1617.3 2923.4C1623.0 2926.3 1628.8 2930.0 1634.5 2934.2C1640.3 2938.4 1646.1 2943.9 1651.8 2948.5C1657.6 2953.0 1663.3 2957.7 1669.1 2961.4C1674.8 2965.2 1680.6 2968.4 1686.4 2970.9C1692.1 2973.4 1697.9 2975.4 1703.6 2976.5C1709.4 2977.6 1715.2 2976.7 1720.9 2977.4C1726.7 2978.1 1732.4 2979.2 1738.2 2980.8C1743.9 2982.5 1749.7 2985.2 1755.5 2987.3C1761.2 2989.5 1767.7 2991.3 1772.7 2993.8C1777.8 2996.2 1781.4 2998.6 1785.7 3002.0C1790.0 3005.4 1794.3 3010.3 1798.6 3014.1C1803.0 3017.9 1807.3 3021.9 1811.6 3024.9C1815.9 3027.9 1819.5 3030.1 1824.5 3032.2C1829.6 3034.4 1836.1 3036.4 1841.8 3037.8C1847.6 3039.3 1853.3 3040.2 1859.1 3040.9C1864.8 3041.5 1870.6 3041.7 1876.4 3041.7C1882.1 3041.7 1888.6 3040.4 1893.6 3040.9C1898.7 3041.3 1901.6 3042.3 1906.6 3044.3C1911.6 3046.3 1918.1 3049.9 1923.9 3053.0C1929.6 3056.0 1936.1 3060.1 1941.1 3062.5C1946.2 3064.8 1949.8 3065.8 1954.1 3067.2C1958.4 3068.6 1962.7 3069.3 1967.0 3071.1C1971.4 3072.9 1975.7 3075.4 1980.0 3078.0C1984.3 3080.6 1988.6 3083.8 1993.0 3086.6C1997.3 3089.5 2001.6 3092.8 2005.9 3095.3C2010.2 3097.7 2014.5 3099.0 2018.9 3101.3C2023.2 3103.6 2027.5 3106.4 2031.8 3109.1C2036.1 3111.8 2040.5 3115.2 2044.8 3117.7C2049.1 3120.2 2052.7 3121.5 2057.7 3124.2C2062.8 3126.9 2070.0 3131.1 2075.0 3134.1C2080.0 3137.2 2084.0 3139.5 2088.0 3142.3C2091.9 3145.2 2095.3 3147.9 2098.7 3151.4C2102.2 3154.9 2107.0 3161.5 2108.7 3163.5" fill="none" stroke="#000" stroke-width="14.5" stroke-linejoin="round"/>
<rect x="419.0" y="3166.8" width="1694.0" height="8.2" fill="#000"/>
<rect x="419.0" y="3133.0" width="8" height="42.0" fill="#000"/>
<rect x="840.5" y="3133.0" width="8" height="42.0" fill="#000"/>
<rect x="1262.0" y="3133.0" width="8" height="42.0" fill="#000"/>
<rect x="1683.5" y="3133.0" width="8" height="42.0" fill="#000"/>
<rect x="2105.0" y="3133.0" width="8" height="42.0" fill="#000"/>
<rect x="629.8" y="3151.5" width="8" height="23.5" fill="#000"/>
<rect x="1051.2" y="3151.5" width="8" height="23.5" fill="#000"/>
<rect x="1472.8" y="3151.5" width="8" height="23.5" fill="#000"/>
<rect x="1894.2" y="3151.5" width="8" height="23.5" fill="#000"/>
<text x="423.0" y="3289.2" font-family="'Liberation Sans', Arial, sans-serif" font-weight="700" font-size="96.0" text-anchor="middle" textLength="219" lengthAdjust="spacingAndGlyphs">2650</text>
<text x="844.5" y="3289.2" font-family="'Liberation Sans', Arial, sans-serif" font-weight="700" font-size="96.0" text-anchor="middle" textLength="219" lengthAdjust="spacingAndGlyphs">2600</text>
<text x="1266.0" y="3289.2" font-family="'Liberation Sans', Arial, sans-serif" font-weight="700" font-size="96.0" text-anchor="middle" textLength="219" lengthAdjust="spacingAndGlyphs">2550</text>
<text x="1687.5" y="3289.2" font-family="'Liberation Sans', Arial, sans-serif" font-weight="700" font-size="96.0" text-anchor="middle" textLength="219" lengthAdjust="spacingAndGlyphs">2500</text>
<text x="2109.0" y="3289.2" font-family="'Liberation Sans', Arial, sans-serif" font-weight="700" font-size="96.0" text-anchor="middle" textLength="219" lengthAdjust="spacingAndGlyphs">2450</text>
<text x="849" y="3460.5" font-family="'Liberation Sans', Arial, sans-serif" font-weight="700" font-size="92.5" textLength="840" lengthAdjust="spacingAndGlyphs">Wavenumber (cm<tspan font-size="60" dy="-33">-1</tspan><tspan dy="33">)</tspan></text>
<text x="1391.5" y="2556.0" font-family="'Liberation Sans', Arial, sans-serif" font-weight="700" font-size="71.0" textLength="114.0" lengthAdjust="spacingAndGlyphs">-SH</text>
<line x1="1371.5" y1="2570.0" x2="1325.8" y2="2610.2" stroke="#000" stroke-width="3.8"/>
<polygon points="1289.0,2642.5 1319.7,2597.2 1337.9,2617.8" fill="#000"/>
</svg>
</body></html>
